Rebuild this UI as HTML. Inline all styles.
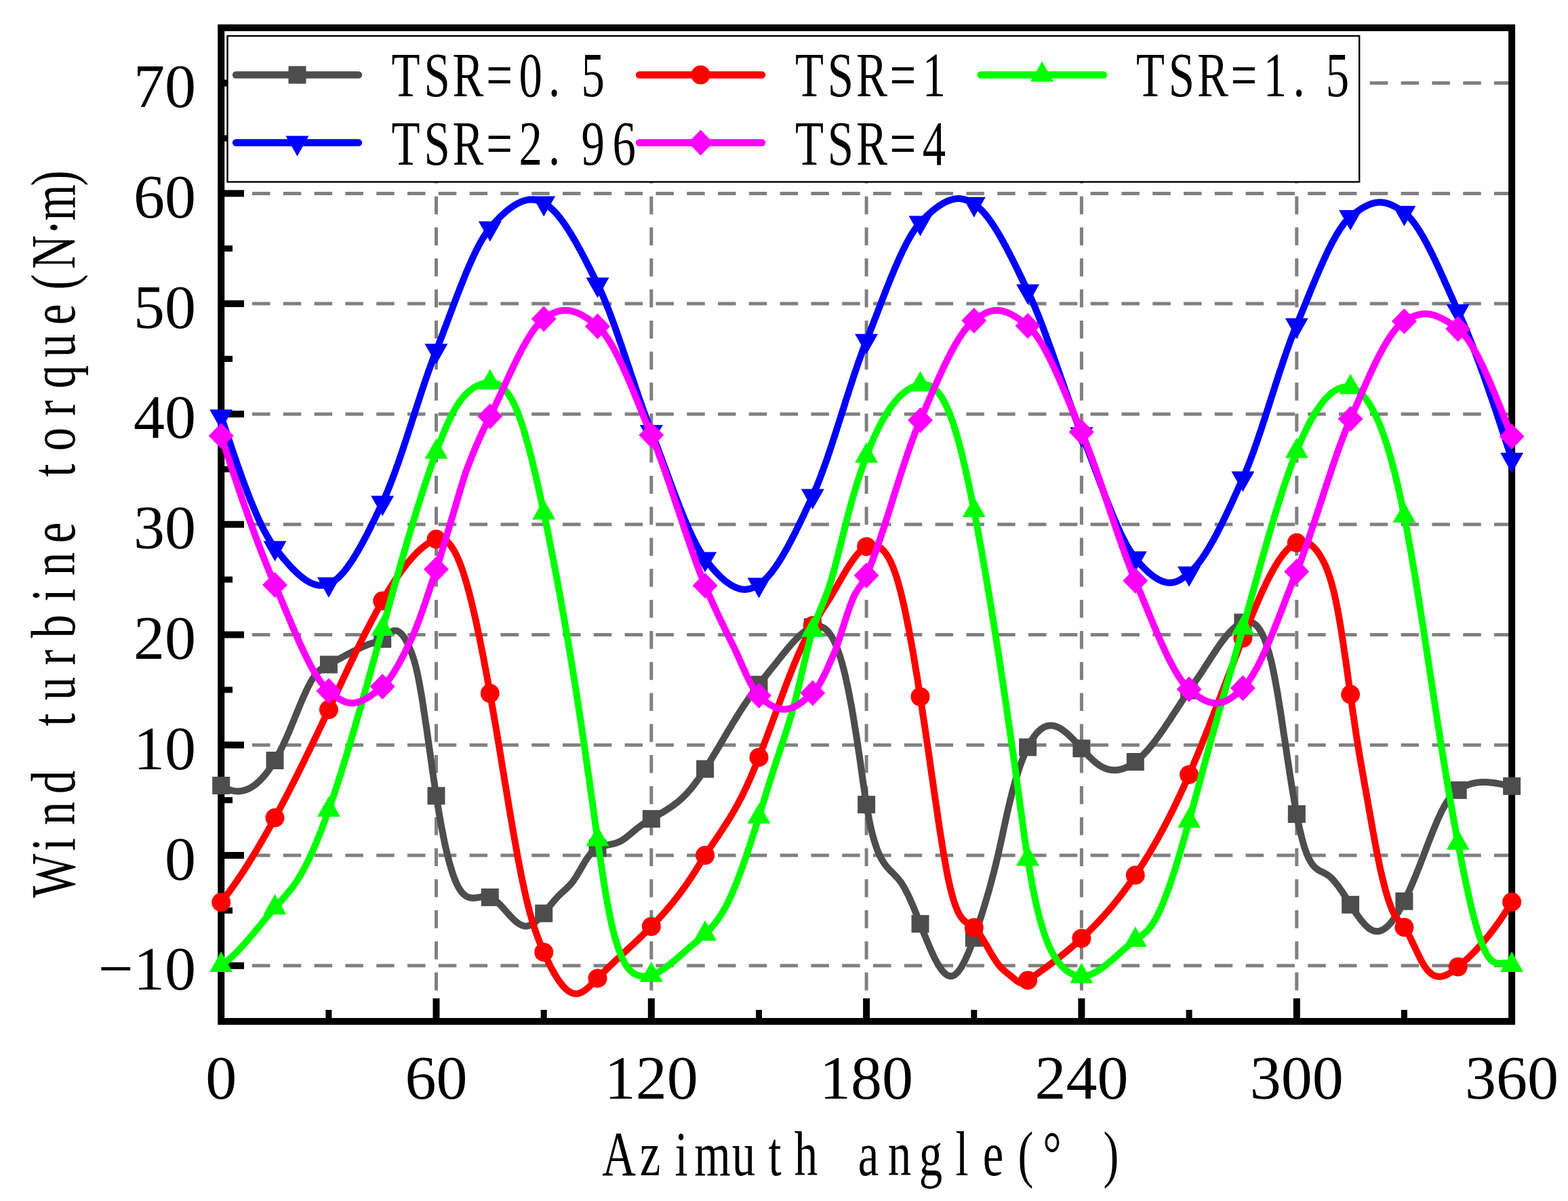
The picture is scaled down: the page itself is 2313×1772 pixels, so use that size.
<!DOCTYPE html><html><head><meta charset="utf-8"><title>Wind turbine torque vs azimuth angle</title><style>html,body{margin:0;padding:0;background:#fff;}svg{display:block;}.tk{font-family:"Liberation Serif","Times New Roman",serif;font-size:92px;fill:#000;}.ss{font-family:"Liberation Serif","Noto Serif CJK SC",serif;fill:#000;}</style></head><body>
<svg width="2313" height="1772" viewBox="0 0 2313 1772">
<rect width="2313" height="1772" fill="#fff"/>
<g stroke="#808080" stroke-width="5" stroke-dasharray="26.5 19.3" fill="none">
<path d="M326.2,1424.8H2225"/>
<path d="M326.2,1262.0H2225"/>
<path d="M326.2,1099.2H2225"/>
<path d="M326.2,936.5H2225"/>
<path d="M326.2,773.7H2225"/>
<path d="M326.2,610.9H2225"/>
<path d="M326.2,448.1H2225"/>
<path d="M326.2,285.4H2225"/>
<path d="M326.2,122.6H2225"/>
<path d="M643.5,1507V46"/>
<path d="M960.8,1507V46"/>
<path d="M1278.1,1507V46"/>
<path d="M1595.4,1507V46"/>
<path d="M1912.8,1507V46"/>
</g>
<rect x="326.2" y="41" width="1903.9" height="1466" fill="none" stroke="#000" stroke-width="10"/>
<g stroke="#000" fill="none">
<path d="M331,1424.8H360" stroke-width="10"/>
<path d="M331,1343.4H343" stroke-width="9"/>
<path d="M331,1262.0H360" stroke-width="10"/>
<path d="M331,1180.6H343" stroke-width="9"/>
<path d="M331,1099.2H360" stroke-width="10"/>
<path d="M331,1017.8H343" stroke-width="9"/>
<path d="M331,936.5H360" stroke-width="10"/>
<path d="M331,855.1H343" stroke-width="9"/>
<path d="M331,773.7H360" stroke-width="10"/>
<path d="M331,692.3H343" stroke-width="9"/>
<path d="M331,610.9H360" stroke-width="10"/>
<path d="M331,529.5H343" stroke-width="9"/>
<path d="M331,448.1H360" stroke-width="10"/>
<path d="M331,366.7H343" stroke-width="9"/>
<path d="M331,285.4H360" stroke-width="10"/>
<path d="M331,204.0H343" stroke-width="9"/>
<path d="M331,122.6H360" stroke-width="10"/>
<path d="M484.9,1502V1490" stroke-width="9"/>
<path d="M643.5,1502V1473" stroke-width="10"/>
<path d="M802.2,1502V1490" stroke-width="9"/>
<path d="M960.8,1502V1473" stroke-width="10"/>
<path d="M1119.5,1502V1490" stroke-width="9"/>
<path d="M1278.1,1502V1473" stroke-width="10"/>
<path d="M1436.8,1502V1490" stroke-width="9"/>
<path d="M1595.4,1502V1473" stroke-width="10"/>
<path d="M1754.1,1502V1490" stroke-width="9"/>
<path d="M1912.8,1502V1473" stroke-width="10"/>
<path d="M2071.4,1502V1490" stroke-width="9"/>
</g>
<path d="M326.2,1159.0 L327.5,1159.8 L328.8,1160.7 L330.2,1161.5 L331.5,1162.2 L332.8,1162.9 L334.1,1163.5 L335.5,1164.1 L336.8,1164.7 L338.1,1165.2 L339.4,1165.6 L340.7,1166.0 L342.1,1166.4 L343.4,1166.7 L344.7,1166.9 L346.0,1167.1 L347.4,1167.3 L348.7,1167.4 L350.0,1167.4 L351.3,1167.4 L352.6,1167.4 L354.0,1167.3 L355.3,1167.1 L356.6,1166.9 L357.9,1166.7 L359.3,1166.4 L360.6,1166.0 L361.9,1165.6 L363.2,1165.2 L364.5,1164.6 L365.9,1164.1 L367.2,1163.5 L368.5,1162.8 L369.8,1162.1 L371.2,1161.3 L372.5,1160.5 L373.8,1159.6 L375.1,1158.7 L376.4,1157.7 L377.8,1156.6 L379.1,1155.5 L380.4,1154.4 L381.7,1153.2 L383.1,1151.9 L384.4,1150.6 L385.7,1149.2 L387.0,1147.8 L388.3,1146.3 L389.7,1144.8 L391.0,1143.2 L392.3,1141.6 L393.6,1139.9 L395.0,1138.1 L396.3,1136.3 L397.6,1134.4 L398.9,1132.5 L400.2,1130.5 L401.6,1128.5 L402.9,1126.4 L404.2,1124.3 L405.5,1122.0 L406.8,1119.8 L408.2,1117.5 L409.5,1115.1 L410.8,1112.6 L412.1,1110.1 L413.5,1107.6 L414.8,1105.0 L416.1,1102.3 L417.4,1099.6 L418.7,1096.8 L420.1,1093.9 L421.4,1091.0 L422.7,1088.1 L424.0,1085.0 L425.4,1082.0 L426.7,1078.8 L428.0,1075.7 L429.3,1072.5 L430.6,1069.3 L432.0,1066.1 L433.3,1062.8 L434.6,1059.5 L435.9,1056.3 L437.3,1053.0 L438.6,1049.8 L439.9,1046.6 L441.2,1043.3 L442.5,1040.2 L443.9,1037.0 L445.2,1033.9 L446.5,1030.8 L447.8,1027.8 L449.2,1024.8 L450.5,1021.9 L451.8,1019.1 L453.1,1016.4 L454.4,1013.7 L455.8,1011.1 L457.1,1008.6 L458.4,1006.2 L459.7,1003.9 L461.1,1001.7 L462.4,999.7 L463.7,997.7 L465.0,995.9 L466.3,994.2 L467.7,992.7 L469.0,991.2 L470.3,989.9 L471.6,988.7 L473.0,987.6 L474.3,986.6 L475.6,985.7 L476.9,984.8 L478.2,984.0 L479.6,983.3 L480.9,982.5 L482.2,981.8 L483.5,981.2 L484.9,980.5 L486.2,979.8 L487.5,979.1 L488.8,978.4 L490.1,977.7 L491.5,977.0 L492.8,976.3 L494.1,975.6 L495.4,974.9 L496.8,974.1 L498.1,973.4 L499.4,972.7 L500.7,972.0 L502.0,971.2 L503.4,970.5 L504.7,969.8 L506.0,969.1 L507.3,968.4 L508.7,967.6 L510.0,966.9 L511.3,966.2 L512.6,965.5 L513.9,964.8 L515.3,964.1 L516.6,963.4 L517.9,962.7 L519.2,962.0 L520.6,961.3 L521.9,960.6 L523.2,960.0 L524.5,959.3 L525.8,958.7 L527.2,958.0 L528.5,957.4 L529.8,956.7 L531.1,956.1 L532.5,955.5 L533.8,954.9 L535.1,954.3 L536.4,953.7 L537.7,953.2 L539.1,952.6 L540.4,952.1 L541.7,951.5 L543.0,951.0 L544.4,950.5 L545.7,950.0 L547.0,949.6 L548.3,949.1 L549.6,948.7 L551.0,948.3 L552.3,947.8 L553.6,947.4 L554.9,947.0 L556.2,946.6 L557.6,946.1 L558.9,945.6 L560.2,945.1 L561.5,944.4 L562.9,943.7 L564.2,942.8 L565.5,941.8 L566.8,940.8 L568.1,939.7 L569.5,938.5 L570.8,937.3 L572.1,936.1 L573.4,935.0 L574.8,933.9 L576.1,933.0 L577.4,932.1 L578.7,931.4 L580.0,930.9 L581.4,930.6 L582.7,930.5 L584.0,930.6 L585.3,930.8 L586.7,931.3 L588.0,932.0 L589.3,932.9 L590.6,933.9 L591.9,935.2 L593.3,936.7 L594.6,938.3 L595.9,940.1 L597.2,942.2 L598.6,944.4 L599.9,946.8 L601.2,949.4 L602.5,952.2 L603.8,955.2 L605.2,958.4 L606.5,961.7 L607.8,965.3 L609.1,969.0 L610.5,973.1 L611.8,977.6 L613.1,982.4 L614.4,987.8 L615.7,993.7 L617.1,1000.1 L618.4,1006.9 L619.7,1014.2 L621.0,1021.7 L622.4,1029.7 L623.7,1037.9 L625.0,1046.4 L626.3,1055.1 L627.6,1064.0 L629.0,1073.1 L630.3,1082.3 L631.6,1091.6 L632.9,1101.0 L634.3,1110.4 L635.6,1119.8 L636.9,1129.2 L638.2,1138.5 L639.5,1147.6 L640.9,1156.7 L642.2,1165.5 L643.5,1174.2 L644.8,1182.6 L646.2,1190.7 L647.5,1198.6 L648.8,1206.3 L650.1,1213.7 L651.4,1220.9 L652.8,1227.8 L654.1,1234.5 L655.4,1240.9 L656.7,1247.1 L658.1,1253.0 L659.4,1258.6 L660.7,1264.1 L662.0,1269.2 L663.3,1274.2 L664.7,1278.8 L666.0,1283.3 L667.3,1287.4 L668.6,1291.3 L670.0,1295.0 L671.3,1298.4 L672.6,1301.6 L673.9,1304.5 L675.2,1307.1 L676.6,1309.6 L677.9,1311.8 L679.2,1313.8 L680.5,1315.6 L681.9,1317.2 L683.2,1318.6 L684.5,1319.8 L685.8,1320.9 L687.1,1321.9 L688.5,1322.6 L689.8,1323.3 L691.1,1323.8 L692.4,1324.2 L693.8,1324.5 L695.1,1324.7 L696.4,1324.9 L697.7,1324.9 L699.0,1324.9 L700.4,1324.8 L701.7,1324.7 L703.0,1324.5 L704.3,1324.3 L705.6,1324.1 L707.0,1323.9 L708.3,1323.6 L709.6,1323.4 L710.9,1323.2 L712.3,1323.1 L713.6,1322.9 L714.9,1322.9 L716.2,1322.8 L717.5,1322.9 L718.9,1323.0 L720.2,1323.2 L721.5,1323.5 L722.8,1323.9 L724.2,1324.4 L725.5,1325.1 L726.8,1325.8 L728.1,1326.6 L729.4,1327.5 L730.8,1328.5 L732.1,1329.6 L733.4,1330.8 L734.7,1332.0 L736.1,1333.2 L737.4,1334.6 L738.7,1335.9 L740.0,1337.3 L741.3,1338.8 L742.7,1340.2 L744.0,1341.7 L745.3,1343.2 L746.6,1344.7 L748.0,1346.2 L749.3,1347.7 L750.6,1349.2 L751.9,1350.6 L753.2,1352.1 L754.6,1353.5 L755.9,1354.8 L757.2,1356.2 L758.5,1357.4 L759.9,1358.6 L761.2,1359.8 L762.5,1360.8 L763.8,1361.8 L765.1,1362.7 L766.5,1363.6 L767.8,1364.3 L769.1,1364.9 L770.4,1365.4 L771.8,1365.9 L773.1,1366.2 L774.4,1366.4 L775.7,1366.4 L777.0,1366.4 L778.4,1366.2 L779.7,1365.9 L781.0,1365.5 L782.3,1365.0 L783.7,1364.3 L785.0,1363.6 L786.3,1362.8 L787.6,1361.9 L788.9,1360.9 L790.3,1359.8 L791.6,1358.7 L792.9,1357.5 L794.2,1356.2 L795.6,1354.9 L796.9,1353.5 L798.2,1352.1 L799.5,1350.6 L800.8,1349.1 L802.2,1347.6 L803.5,1346.0 L804.8,1344.4 L806.1,1342.8 L807.5,1341.1 L808.8,1339.5 L810.1,1337.9 L811.4,1336.2 L812.7,1334.6 L814.1,1333.0 L815.4,1331.4 L816.7,1329.8 L818.0,1328.3 L819.4,1326.7 L820.7,1325.3 L822.0,1323.8 L823.3,1322.4 L824.6,1321.1 L826.0,1319.8 L827.3,1318.5 L828.6,1317.3 L829.9,1316.1 L831.3,1314.9 L832.6,1313.7 L833.9,1312.5 L835.2,1311.3 L836.5,1310.0 L837.9,1308.7 L839.2,1307.4 L840.5,1306.0 L841.8,1304.5 L843.2,1302.9 L844.5,1301.3 L845.8,1299.6 L847.1,1297.7 L848.4,1295.8 L849.8,1293.7 L851.1,1291.6 L852.4,1289.4 L853.7,1287.1 L855.0,1284.9 L856.4,1282.6 L857.7,1280.3 L859.0,1278.0 L860.3,1275.7 L861.7,1273.5 L863.0,1271.3 L864.3,1269.2 L865.6,1267.1 L866.9,1265.2 L868.3,1263.4 L869.6,1261.7 L870.9,1260.1 L872.2,1258.6 L873.6,1257.3 L874.9,1256.1 L876.2,1255.0 L877.5,1253.9 L878.8,1253.0 L880.2,1252.2 L881.5,1251.4 L882.8,1250.7 L884.1,1250.1 L885.5,1249.5 L886.8,1249.0 L888.1,1248.6 L889.4,1248.2 L890.7,1247.8 L892.1,1247.5 L893.4,1247.2 L894.7,1246.9 L896.0,1246.7 L897.4,1246.4 L898.7,1246.2 L900.0,1245.9 L901.3,1245.7 L902.6,1245.4 L904.0,1245.1 L905.3,1244.8 L906.6,1244.5 L907.9,1244.1 L909.3,1243.7 L910.6,1243.2 L911.9,1242.7 L913.2,1242.1 L914.5,1241.5 L915.9,1240.8 L917.2,1240.0 L918.5,1239.2 L919.8,1238.3 L921.2,1237.4 L922.5,1236.5 L923.8,1235.5 L925.1,1234.4 L926.4,1233.4 L927.8,1232.3 L929.1,1231.2 L930.4,1230.1 L931.7,1229.0 L933.1,1227.9 L934.4,1226.8 L935.7,1225.7 L937.0,1224.6 L938.3,1223.5 L939.7,1222.4 L941.0,1221.4 L942.3,1220.4 L943.6,1219.4 L945.0,1218.4 L946.3,1217.5 L947.6,1216.6 L948.9,1215.7 L950.2,1214.8 L951.6,1213.9 L952.9,1213.1 L954.2,1212.2 L955.5,1211.4 L956.9,1210.6 L958.2,1209.8 L959.5,1209.0 L960.8,1208.2 L962.1,1207.4 L963.5,1206.6 L964.8,1205.9 L966.1,1205.1 L967.4,1204.3 L968.8,1203.6 L970.1,1202.8 L971.4,1202.1 L972.7,1201.3 L974.0,1200.5 L975.4,1199.7 L976.7,1199.0 L978.0,1198.2 L979.3,1197.4 L980.7,1196.6 L982.0,1195.8 L983.3,1194.9 L984.6,1194.1 L985.9,1193.2 L987.3,1192.4 L988.6,1191.5 L989.9,1190.6 L991.2,1189.7 L992.6,1188.7 L993.9,1187.8 L995.2,1186.8 L996.5,1185.8 L997.8,1184.7 L999.2,1183.7 L1000.5,1182.6 L1001.8,1181.5 L1003.1,1180.3 L1004.5,1179.2 L1005.8,1178.0 L1007.1,1176.7 L1008.4,1175.5 L1009.7,1174.2 L1011.1,1172.8 L1012.4,1171.4 L1013.7,1170.0 L1015.0,1168.6 L1016.3,1167.1 L1017.7,1165.5 L1019.0,1164.0 L1020.3,1162.4 L1021.6,1160.7 L1023.0,1159.0 L1024.3,1157.3 L1025.6,1155.6 L1026.9,1153.8 L1028.2,1152.0 L1029.6,1150.2 L1030.9,1148.3 L1032.2,1146.5 L1033.5,1144.6 L1034.9,1142.6 L1036.2,1140.7 L1037.5,1138.7 L1038.8,1136.7 L1040.1,1134.6 L1041.5,1132.6 L1042.8,1130.5 L1044.1,1128.5 L1045.4,1126.4 L1046.8,1124.2 L1048.1,1122.1 L1049.4,1120.0 L1050.7,1117.8 L1052.0,1115.6 L1053.4,1113.5 L1054.7,1111.3 L1056.0,1109.1 L1057.3,1106.9 L1058.7,1104.6 L1060.0,1102.4 L1061.3,1100.2 L1062.6,1097.9 L1063.9,1095.7 L1065.3,1093.5 L1066.6,1091.2 L1067.9,1089.0 L1069.2,1086.7 L1070.6,1084.5 L1071.9,1082.3 L1073.2,1080.0 L1074.5,1077.8 L1075.8,1075.6 L1077.2,1073.4 L1078.5,1071.2 L1079.8,1069.0 L1081.1,1066.8 L1082.5,1064.6 L1083.8,1062.4 L1085.1,1060.3 L1086.4,1058.1 L1087.7,1056.0 L1089.1,1053.9 L1090.4,1051.8 L1091.7,1049.7 L1093.0,1047.6 L1094.4,1045.6 L1095.7,1043.5 L1097.0,1041.5 L1098.3,1039.5 L1099.6,1037.6 L1101.0,1035.6 L1102.3,1033.7 L1103.6,1031.8 L1104.9,1029.9 L1106.3,1028.0 L1107.6,1026.2 L1108.9,1024.4 L1110.2,1022.5 L1111.5,1020.7 L1112.9,1018.9 L1114.2,1017.1 L1115.5,1015.4 L1116.8,1013.6 L1118.2,1011.9 L1119.5,1010.1 L1120.8,1008.4 L1122.1,1006.7 L1123.4,1005.0 L1124.8,1003.3 L1126.1,1001.6 L1127.4,999.9 L1128.7,998.2 L1130.1,996.6 L1131.4,994.9 L1132.7,993.3 L1134.0,991.6 L1135.3,989.9 L1136.7,988.3 L1138.0,986.6 L1139.3,985.0 L1140.6,983.3 L1142.0,981.7 L1143.3,980.0 L1144.6,978.4 L1145.9,976.7 L1147.2,975.1 L1148.6,973.4 L1149.9,971.8 L1151.2,970.1 L1152.5,968.5 L1153.9,966.8 L1155.2,965.1 L1156.5,963.5 L1157.8,961.9 L1159.1,960.2 L1160.5,958.6 L1161.8,957.0 L1163.1,955.5 L1164.4,953.9 L1165.7,952.4 L1167.1,950.8 L1168.4,949.3 L1169.7,947.9 L1171.0,946.4 L1172.4,945.0 L1173.7,943.6 L1175.0,942.2 L1176.3,940.9 L1177.6,939.6 L1179.0,938.4 L1180.3,937.1 L1181.6,936.0 L1182.9,934.8 L1184.3,933.8 L1185.6,932.7 L1186.9,931.7 L1188.2,930.8 L1189.5,929.9 L1190.9,929.0 L1192.2,928.3 L1193.5,927.5 L1194.8,926.9 L1196.2,926.2 L1197.5,925.7 L1198.8,925.2 L1200.1,924.8 L1201.4,924.4 L1202.8,924.2 L1204.1,924.0 L1205.4,923.9 L1206.7,923.9 L1208.1,924.0 L1209.4,924.2 L1210.7,924.5 L1212.0,924.9 L1213.3,925.4 L1214.7,926.1 L1216.0,926.9 L1217.3,927.9 L1218.6,929.0 L1220.0,930.2 L1221.3,931.6 L1222.6,933.1 L1223.9,934.9 L1225.2,936.8 L1226.6,938.8 L1227.9,941.1 L1229.2,943.5 L1230.5,946.2 L1231.9,949.0 L1233.2,952.0 L1234.5,955.3 L1235.8,958.8 L1237.1,962.5 L1238.5,966.4 L1239.8,970.6 L1241.1,975.0 L1242.4,979.6 L1243.8,984.5 L1245.1,989.6 L1246.4,995.1 L1247.7,1000.7 L1249.0,1006.7 L1250.4,1012.9 L1251.7,1019.4 L1253.0,1026.1 L1254.3,1033.1 L1255.7,1040.3 L1257.0,1047.7 L1258.3,1055.3 L1259.6,1063.2 L1260.9,1071.2 L1262.3,1079.5 L1263.6,1087.9 L1264.9,1096.6 L1266.2,1105.4 L1267.6,1114.4 L1268.9,1123.5 L1270.2,1132.8 L1271.5,1142.2 L1272.8,1151.6 L1274.2,1160.9 L1275.5,1170.0 L1276.8,1178.7 L1278.1,1187.1 L1279.5,1195.0 L1280.8,1202.4 L1282.1,1209.3 L1283.4,1215.7 L1284.7,1221.7 L1286.1,1227.4 L1287.4,1232.6 L1288.7,1237.4 L1290.0,1241.9 L1291.4,1246.1 L1292.7,1249.9 L1294.0,1253.5 L1295.3,1256.8 L1296.6,1259.9 L1298.0,1262.7 L1299.3,1265.3 L1300.6,1267.8 L1301.9,1270.1 L1303.3,1272.2 L1304.6,1274.1 L1305.9,1276.0 L1307.2,1277.7 L1308.5,1279.3 L1309.9,1280.9 L1311.2,1282.3 L1312.5,1283.8 L1313.8,1285.1 L1315.1,1286.4 L1316.5,1287.7 L1317.8,1289.0 L1319.1,1290.4 L1320.4,1291.7 L1321.8,1293.1 L1323.1,1294.5 L1324.4,1296.0 L1325.7,1297.5 L1327.0,1299.2 L1328.4,1300.9 L1329.7,1302.8 L1331.0,1304.8 L1332.3,1307.0 L1333.7,1309.2 L1335.0,1311.6 L1336.3,1314.1 L1337.6,1316.6 L1338.9,1319.3 L1340.3,1322.0 L1341.6,1324.9 L1342.9,1327.8 L1344.2,1330.8 L1345.6,1333.8 L1346.9,1336.9 L1348.2,1340.1 L1349.5,1343.3 L1350.8,1346.5 L1352.2,1349.8 L1353.5,1353.1 L1354.8,1356.4 L1356.1,1359.8 L1357.5,1363.1 L1358.8,1366.5 L1360.1,1369.8 L1361.4,1373.2 L1362.7,1376.5 L1364.1,1379.8 L1365.4,1383.1 L1366.7,1386.4 L1368.0,1389.6 L1369.4,1392.8 L1370.7,1395.9 L1372.0,1399.0 L1373.3,1402.0 L1374.6,1405.0 L1376.0,1407.8 L1377.3,1410.6 L1378.6,1413.3 L1379.9,1415.9 L1381.3,1418.4 L1382.6,1420.8 L1383.9,1423.1 L1385.2,1425.3 L1386.5,1427.4 L1387.9,1429.3 L1389.2,1431.1 L1390.5,1432.7 L1391.8,1434.2 L1393.2,1435.6 L1394.5,1436.8 L1395.8,1437.8 L1397.1,1438.7 L1398.4,1439.4 L1399.8,1439.9 L1401.1,1440.2 L1402.4,1440.3 L1403.7,1440.2 L1405.1,1439.9 L1406.4,1439.4 L1407.7,1438.7 L1409.0,1437.8 L1410.3,1436.7 L1411.7,1435.4 L1413.0,1434.0 L1414.3,1432.4 L1415.6,1430.6 L1417.0,1428.7 L1418.3,1426.6 L1419.6,1424.3 L1420.9,1421.9 L1422.2,1419.4 L1423.6,1416.7 L1424.9,1413.9 L1426.2,1411.0 L1427.5,1408.0 L1428.9,1404.8 L1430.2,1401.6 L1431.5,1398.2 L1432.8,1394.7 L1434.1,1391.2 L1435.5,1387.6 L1436.8,1383.8 L1438.1,1380.0 L1439.4,1376.2 L1440.8,1372.3 L1442.1,1368.3 L1443.4,1364.2 L1444.7,1360.1 L1446.0,1356.0 L1447.4,1351.8 L1448.7,1347.6 L1450.0,1343.4 L1451.3,1339.1 L1452.7,1334.7 L1454.0,1330.4 L1455.3,1325.9 L1456.6,1321.4 L1457.9,1316.8 L1459.3,1312.1 L1460.6,1307.4 L1461.9,1302.5 L1463.2,1297.6 L1464.5,1292.6 L1465.9,1287.5 L1467.2,1282.3 L1468.5,1277.0 L1469.8,1271.5 L1471.2,1266.0 L1472.5,1260.3 L1473.8,1254.5 L1475.1,1248.6 L1476.4,1242.6 L1477.8,1236.5 L1479.1,1230.3 L1480.4,1224.2 L1481.7,1218.0 L1483.1,1211.9 L1484.4,1205.8 L1485.7,1199.8 L1487.0,1194.0 L1488.3,1188.3 L1489.7,1182.7 L1491.0,1177.4 L1492.3,1172.1 L1493.6,1167.0 L1495.0,1162.1 L1496.3,1157.3 L1497.6,1152.7 L1498.9,1148.2 L1500.2,1143.9 L1501.6,1139.7 L1502.9,1135.6 L1504.2,1131.7 L1505.5,1127.9 L1506.9,1124.3 L1508.2,1120.8 L1509.5,1117.4 L1510.8,1114.1 L1512.1,1111.0 L1513.5,1108.0 L1514.8,1105.2 L1516.1,1102.5 L1517.4,1099.9 L1518.8,1097.4 L1520.1,1095.0 L1521.4,1092.8 L1522.7,1090.6 L1524.0,1088.6 L1525.4,1086.7 L1526.7,1085.0 L1528.0,1083.3 L1529.3,1081.7 L1530.7,1080.3 L1532.0,1078.9 L1533.3,1077.7 L1534.6,1076.6 L1535.9,1075.5 L1537.3,1074.6 L1538.6,1073.8 L1539.9,1073.0 L1541.2,1072.4 L1542.6,1071.9 L1543.9,1071.4 L1545.2,1071.0 L1546.5,1070.8 L1547.8,1070.6 L1549.2,1070.5 L1550.5,1070.5 L1551.8,1070.6 L1553.1,1070.7 L1554.5,1070.9 L1555.8,1071.2 L1557.1,1071.6 L1558.4,1072.1 L1559.7,1072.6 L1561.1,1073.2 L1562.4,1073.9 L1563.7,1074.6 L1565.0,1075.4 L1566.4,1076.3 L1567.7,1077.2 L1569.0,1078.1 L1570.3,1079.1 L1571.6,1080.2 L1573.0,1081.3 L1574.3,1082.4 L1575.6,1083.6 L1576.9,1084.8 L1578.3,1086.1 L1579.6,1087.4 L1580.9,1088.7 L1582.2,1090.0 L1583.5,1091.4 L1584.9,1092.8 L1586.2,1094.2 L1587.5,1095.6 L1588.8,1097.0 L1590.2,1098.5 L1591.5,1099.9 L1592.8,1101.4 L1594.1,1102.8 L1595.4,1104.3 L1596.8,1105.7 L1598.1,1107.2 L1599.4,1108.6 L1600.7,1110.0 L1602.1,1111.4 L1603.4,1112.8 L1604.7,1114.2 L1606.0,1115.6 L1607.3,1116.9 L1608.7,1118.2 L1610.0,1119.5 L1611.3,1120.8 L1612.6,1122.0 L1613.9,1123.1 L1615.3,1124.3 L1616.6,1125.4 L1617.9,1126.4 L1619.2,1127.4 L1620.6,1128.4 L1621.9,1129.3 L1623.2,1130.1 L1624.5,1130.9 L1625.8,1131.6 L1627.2,1132.3 L1628.5,1132.9 L1629.8,1133.5 L1631.1,1134.0 L1632.5,1134.5 L1633.8,1134.9 L1635.1,1135.2 L1636.4,1135.5 L1637.7,1135.8 L1639.1,1136.0 L1640.4,1136.1 L1641.7,1136.2 L1643.0,1136.3 L1644.4,1136.3 L1645.7,1136.3 L1647.0,1136.2 L1648.3,1136.0 L1649.6,1135.9 L1651.0,1135.6 L1652.3,1135.3 L1653.6,1135.0 L1654.9,1134.7 L1656.3,1134.2 L1657.6,1133.8 L1658.9,1133.3 L1660.2,1132.7 L1661.5,1132.2 L1662.9,1131.5 L1664.2,1130.8 L1665.5,1130.1 L1666.8,1129.4 L1668.2,1128.6 L1669.5,1127.7 L1670.8,1126.9 L1672.1,1125.9 L1673.4,1125.0 L1674.8,1124.0 L1676.1,1123.0 L1677.4,1121.9 L1678.7,1120.8 L1680.1,1119.6 L1681.4,1118.4 L1682.7,1117.2 L1684.0,1116.0 L1685.3,1114.7 L1686.7,1113.3 L1688.0,1112.0 L1689.3,1110.6 L1690.6,1109.2 L1692.0,1107.7 L1693.3,1106.2 L1694.6,1104.7 L1695.9,1103.1 L1697.2,1101.5 L1698.6,1099.9 L1699.9,1098.3 L1701.2,1096.6 L1702.5,1094.9 L1703.9,1093.2 L1705.2,1091.4 L1706.5,1089.6 L1707.8,1087.8 L1709.1,1086.0 L1710.5,1084.2 L1711.8,1082.3 L1713.1,1080.4 L1714.4,1078.5 L1715.8,1076.6 L1717.1,1074.7 L1718.4,1072.8 L1719.7,1070.8 L1721.0,1068.8 L1722.4,1066.9 L1723.7,1064.9 L1725.0,1062.9 L1726.3,1060.9 L1727.7,1058.8 L1729.0,1056.8 L1730.3,1054.8 L1731.6,1052.8 L1732.9,1050.7 L1734.3,1048.7 L1735.6,1046.7 L1736.9,1044.6 L1738.2,1042.6 L1739.6,1040.6 L1740.9,1038.5 L1742.2,1036.5 L1743.5,1034.5 L1744.8,1032.5 L1746.2,1030.5 L1747.5,1028.5 L1748.8,1026.5 L1750.1,1024.5 L1751.5,1022.6 L1752.8,1020.6 L1754.1,1018.7 L1755.4,1016.7 L1756.7,1014.8 L1758.1,1012.9 L1759.4,1011.0 L1760.7,1009.1 L1762.0,1007.2 L1763.3,1005.3 L1764.7,1003.4 L1766.0,1001.5 L1767.3,999.6 L1768.6,997.6 L1770.0,995.7 L1771.3,993.7 L1772.6,991.7 L1773.9,989.7 L1775.2,987.7 L1776.6,985.6 L1777.9,983.6 L1779.2,981.5 L1780.5,979.5 L1781.9,977.4 L1783.2,975.4 L1784.5,973.3 L1785.8,971.3 L1787.1,969.3 L1788.5,967.2 L1789.8,965.2 L1791.1,963.2 L1792.4,961.2 L1793.8,959.3 L1795.1,957.3 L1796.4,955.4 L1797.7,953.5 L1799.0,951.6 L1800.4,949.7 L1801.7,947.9 L1803.0,946.1 L1804.3,944.4 L1805.7,942.6 L1807.0,941.0 L1808.3,939.3 L1809.6,937.7 L1810.9,936.2 L1812.3,934.6 L1813.6,933.2 L1814.9,931.8 L1816.2,930.4 L1817.6,929.1 L1818.9,927.8 L1820.2,926.6 L1821.5,925.5 L1822.8,924.4 L1824.2,923.4 L1825.5,922.5 L1826.8,921.6 L1828.1,920.8 L1829.5,920.1 L1830.8,919.5 L1832.1,918.9 L1833.4,918.4 L1834.7,918.0 L1836.1,917.7 L1837.4,917.4 L1838.7,917.3 L1840.0,917.2 L1841.4,917.2 L1842.7,917.3 L1844.0,917.6 L1845.3,917.9 L1846.6,918.4 L1848.0,919.0 L1849.3,919.7 L1850.6,920.6 L1851.9,921.6 L1853.3,922.8 L1854.6,924.2 L1855.9,925.8 L1857.2,927.5 L1858.5,929.5 L1859.9,931.7 L1861.2,934.1 L1862.5,936.7 L1863.8,939.6 L1865.2,942.7 L1866.5,946.1 L1867.8,949.8 L1869.1,953.7 L1870.4,957.9 L1871.8,962.5 L1873.1,967.3 L1874.4,972.5 L1875.7,977.9 L1877.1,983.7 L1878.4,989.9 L1879.7,996.4 L1881.0,1003.3 L1882.3,1010.5 L1883.7,1018.0 L1885.0,1025.8 L1886.3,1033.8 L1887.6,1042.1 L1889.0,1050.5 L1890.3,1059.1 L1891.6,1067.9 L1892.9,1076.7 L1894.2,1085.6 L1895.6,1094.5 L1896.9,1103.4 L1898.2,1112.3 L1899.5,1121.1 L1900.9,1129.9 L1902.2,1138.5 L1903.5,1147.0 L1904.8,1155.3 L1906.1,1163.4 L1907.5,1171.4 L1908.8,1179.2 L1910.1,1186.7 L1911.4,1194.0 L1912.8,1201.1 L1914.1,1207.9 L1915.4,1214.4 L1916.7,1220.7 L1918.0,1226.7 L1919.4,1232.3 L1920.7,1237.6 L1922.0,1242.5 L1923.3,1247.1 L1924.6,1251.4 L1926.0,1255.3 L1927.3,1258.9 L1928.6,1262.1 L1929.9,1265.1 L1931.3,1267.8 L1932.6,1270.2 L1933.9,1272.4 L1935.2,1274.4 L1936.5,1276.2 L1937.9,1277.7 L1939.2,1279.2 L1940.5,1280.4 L1941.8,1281.5 L1943.2,1282.5 L1944.5,1283.4 L1945.8,1284.2 L1947.1,1285.0 L1948.4,1285.6 L1949.8,1286.3 L1951.1,1286.9 L1952.4,1287.6 L1953.7,1288.2 L1955.1,1288.9 L1956.4,1289.7 L1957.7,1290.5 L1959.0,1291.4 L1960.3,1292.4 L1961.7,1293.5 L1963.0,1294.6 L1964.3,1295.9 L1965.6,1297.2 L1967.0,1298.7 L1968.3,1300.2 L1969.6,1301.7 L1970.9,1303.4 L1972.2,1305.1 L1973.6,1306.8 L1974.9,1308.6 L1976.2,1310.5 L1977.5,1312.4 L1978.9,1314.3 L1980.2,1316.2 L1981.5,1318.2 L1982.8,1320.3 L1984.1,1322.3 L1985.5,1324.4 L1986.8,1326.4 L1988.1,1328.5 L1989.4,1330.6 L1990.8,1332.7 L1992.1,1334.8 L1993.4,1336.9 L1994.7,1338.9 L1996.0,1341.0 L1997.4,1343.0 L1998.7,1345.0 L2000.0,1347.0 L2001.3,1348.9 L2002.7,1350.8 L2004.0,1352.6 L2005.3,1354.4 L2006.6,1356.2 L2007.9,1357.9 L2009.3,1359.5 L2010.6,1361.1 L2011.9,1362.6 L2013.2,1364.1 L2014.6,1365.4 L2015.9,1366.7 L2017.2,1367.9 L2018.5,1369.0 L2019.8,1370.0 L2021.2,1370.9 L2022.5,1371.7 L2023.8,1372.4 L2025.1,1373.0 L2026.5,1373.4 L2027.8,1373.8 L2029.1,1374.0 L2030.4,1374.1 L2031.7,1374.1 L2033.1,1374.0 L2034.4,1373.8 L2035.7,1373.5 L2037.0,1373.0 L2038.4,1372.5 L2039.7,1371.8 L2041.0,1371.1 L2042.3,1370.2 L2043.6,1369.3 L2045.0,1368.2 L2046.3,1367.1 L2047.6,1365.8 L2048.9,1364.5 L2050.3,1363.1 L2051.6,1361.6 L2052.9,1360.0 L2054.2,1358.3 L2055.5,1356.6 L2056.9,1354.7 L2058.2,1352.8 L2059.5,1350.8 L2060.8,1348.7 L2062.2,1346.6 L2063.5,1344.4 L2064.8,1342.1 L2066.1,1339.7 L2067.4,1337.3 L2068.8,1334.8 L2070.1,1332.3 L2071.4,1329.7 L2072.7,1327.0 L2074.0,1324.3 L2075.4,1321.5 L2076.7,1318.7 L2078.0,1315.8 L2079.3,1312.9 L2080.7,1309.9 L2082.0,1306.8 L2083.3,1303.8 L2084.6,1300.6 L2085.9,1297.5 L2087.3,1294.3 L2088.6,1291.1 L2089.9,1287.8 L2091.2,1284.5 L2092.6,1281.1 L2093.9,1277.8 L2095.2,1274.4 L2096.5,1271.0 L2097.8,1267.5 L2099.2,1264.1 L2100.5,1260.6 L2101.8,1257.1 L2103.1,1253.7 L2104.5,1250.2 L2105.8,1246.8 L2107.1,1243.3 L2108.4,1239.9 L2109.7,1236.5 L2111.1,1233.1 L2112.4,1229.8 L2113.7,1226.5 L2115.0,1223.2 L2116.4,1220.0 L2117.7,1216.9 L2119.0,1213.7 L2120.3,1210.7 L2121.6,1207.7 L2123.0,1204.8 L2124.3,1202.0 L2125.6,1199.2 L2126.9,1196.5 L2128.3,1193.9 L2129.6,1191.4 L2130.9,1189.0 L2132.2,1186.7 L2133.5,1184.5 L2134.9,1182.4 L2136.2,1180.5 L2137.5,1178.6 L2138.8,1176.9 L2140.2,1175.3 L2141.5,1173.8 L2142.8,1172.4 L2144.1,1171.1 L2145.4,1169.9 L2146.8,1168.8 L2148.1,1167.7 L2149.4,1166.7 L2150.7,1165.8 L2152.1,1164.9 L2153.4,1164.0 L2154.7,1163.2 L2156.0,1162.4 L2157.3,1161.7 L2158.7,1161.0 L2160.0,1160.3 L2161.3,1159.7 L2162.6,1159.1 L2164.0,1158.6 L2165.3,1158.1 L2166.6,1157.6 L2167.9,1157.1 L2169.2,1156.7 L2170.6,1156.4 L2171.9,1156.0 L2173.2,1155.7 L2174.5,1155.4 L2175.9,1155.2 L2177.2,1154.9 L2178.5,1154.7 L2179.8,1154.6 L2181.1,1154.4 L2182.5,1154.3 L2183.8,1154.2 L2185.1,1154.1 L2186.4,1154.1 L2187.8,1154.1 L2189.1,1154.0 L2190.4,1154.1 L2191.7,1154.1 L2193.0,1154.1 L2194.4,1154.2 L2195.7,1154.3 L2197.0,1154.4 L2198.3,1154.5 L2199.7,1154.7 L2201.0,1154.8 L2202.3,1155.0 L2203.6,1155.1 L2204.9,1155.3 L2206.3,1155.5 L2207.6,1155.7 L2208.9,1155.9 L2210.2,1156.2 L2211.6,1156.4 L2212.9,1156.6 L2214.2,1156.9 L2215.5,1157.1 L2216.8,1157.4 L2218.2,1157.6 L2219.5,1157.9 L2220.8,1158.1 L2222.1,1158.4 L2223.4,1158.7 L2224.8,1158.9 L2226.1,1159.2 L2227.4,1159.4 L2228.7,1159.7 L2230.1,1159.9" fill="none" stroke="#4d4d4d" stroke-width="10" stroke-linejoin="round" stroke-linecap="round"/>
<rect x="313.2" y="1146.0" width="26" height="26" fill="#4d4d4d"/><rect x="392.5" y="1109.0" width="26" height="26" fill="#4d4d4d"/><rect x="471.9" y="967.5" width="26" height="26" fill="#4d4d4d"/><rect x="551.2" y="929.8" width="26" height="26" fill="#4d4d4d"/><rect x="630.5" y="1161.2" width="26" height="26" fill="#4d4d4d"/><rect x="709.8" y="1310.9" width="26" height="26" fill="#4d4d4d"/><rect x="789.2" y="1334.6" width="26" height="26" fill="#4d4d4d"/><rect x="868.5" y="1238.4" width="26" height="26" fill="#4d4d4d"/><rect x="947.8" y="1195.2" width="26" height="26" fill="#4d4d4d"/><rect x="1027.1" y="1121.6" width="26" height="26" fill="#4d4d4d"/><rect x="1106.5" y="997.1" width="26" height="26" fill="#4d4d4d"/><rect x="1185.8" y="912.2" width="26" height="26" fill="#4d4d4d"/><rect x="1265.1" y="1174.1" width="26" height="26" fill="#4d4d4d"/><rect x="1344.5" y="1350.1" width="26" height="26" fill="#4d4d4d"/><rect x="1423.8" y="1370.8" width="26" height="26" fill="#4d4d4d"/><rect x="1503.1" y="1089.5" width="26" height="26" fill="#4d4d4d"/><rect x="1582.4" y="1091.3" width="26" height="26" fill="#4d4d4d"/><rect x="1661.8" y="1111.0" width="26" height="26" fill="#4d4d4d"/><rect x="1741.1" y="1005.7" width="26" height="26" fill="#4d4d4d"/><rect x="1820.4" y="905.4" width="26" height="26" fill="#4d4d4d"/><rect x="1899.8" y="1188.1" width="26" height="26" fill="#4d4d4d"/><rect x="1979.1" y="1321.8" width="26" height="26" fill="#4d4d4d"/><rect x="2058.4" y="1316.7" width="26" height="26" fill="#4d4d4d"/><rect x="2137.7" y="1152.8" width="26" height="26" fill="#4d4d4d"/><rect x="2217.1" y="1146.9" width="26" height="26" fill="#4d4d4d"/>
<path d="M326.2,1331.3 L327.5,1329.6 L328.8,1327.9 L330.2,1326.2 L331.5,1324.5 L332.8,1322.8 L334.1,1321.1 L335.5,1319.3 L336.8,1317.5 L338.1,1315.8 L339.4,1314.0 L340.7,1312.1 L342.1,1310.3 L343.4,1308.5 L344.7,1306.6 L346.0,1304.7 L347.4,1302.8 L348.7,1300.9 L350.0,1299.0 L351.3,1297.0 L352.6,1295.1 L354.0,1293.1 L355.3,1291.2 L356.6,1289.2 L357.9,1287.2 L359.3,1285.1 L360.6,1283.1 L361.9,1281.0 L363.2,1279.0 L364.5,1276.9 L365.9,1274.8 L367.2,1272.7 L368.5,1270.6 L369.8,1268.5 L371.2,1266.3 L372.5,1264.2 L373.8,1262.0 L375.1,1259.8 L376.4,1257.7 L377.8,1255.5 L379.1,1253.2 L380.4,1251.0 L381.7,1248.8 L383.1,1246.5 L384.4,1244.3 L385.7,1242.0 L387.0,1239.7 L388.3,1237.4 L389.7,1235.1 L391.0,1232.8 L392.3,1230.5 L393.6,1228.1 L395.0,1225.8 L396.3,1223.4 L397.6,1221.0 L398.9,1218.7 L400.2,1216.3 L401.6,1213.9 L402.9,1211.5 L404.2,1209.0 L405.5,1206.6 L406.8,1204.2 L408.2,1201.7 L409.5,1199.3 L410.8,1196.8 L412.1,1194.3 L413.5,1191.8 L414.8,1189.3 L416.1,1186.8 L417.4,1184.3 L418.7,1181.8 L420.1,1179.3 L421.4,1176.7 L422.7,1174.2 L424.0,1171.6 L425.4,1169.0 L426.7,1166.5 L428.0,1163.9 L429.3,1161.3 L430.6,1158.7 L432.0,1156.1 L433.3,1153.5 L434.6,1150.9 L435.9,1148.3 L437.3,1145.6 L438.6,1143.0 L439.9,1140.3 L441.2,1137.7 L442.5,1135.0 L443.9,1132.4 L445.2,1129.7 L446.5,1127.0 L447.8,1124.3 L449.2,1121.6 L450.5,1118.9 L451.8,1116.2 L453.1,1113.5 L454.4,1110.8 L455.8,1108.1 L457.1,1105.4 L458.4,1102.6 L459.7,1099.9 L461.1,1097.2 L462.4,1094.4 L463.7,1091.7 L465.0,1088.9 L466.3,1086.2 L467.7,1083.4 L469.0,1080.6 L470.3,1077.9 L471.6,1075.1 L473.0,1072.3 L474.3,1069.5 L475.6,1066.7 L476.9,1063.9 L478.2,1061.2 L479.6,1058.4 L480.9,1055.6 L482.2,1052.8 L483.5,1049.9 L484.9,1047.1 L486.2,1044.3 L487.5,1041.5 L488.8,1038.7 L490.1,1035.9 L491.5,1033.0 L492.8,1030.2 L494.1,1027.4 L495.4,1024.6 L496.8,1021.8 L498.1,1018.9 L499.4,1016.1 L500.7,1013.3 L502.0,1010.5 L503.4,1007.7 L504.7,1004.8 L506.0,1002.0 L507.3,999.2 L508.7,996.4 L510.0,993.6 L511.3,990.8 L512.6,988.0 L513.9,985.2 L515.3,982.4 L516.6,979.7 L517.9,976.9 L519.2,974.1 L520.6,971.4 L521.9,968.6 L523.2,965.9 L524.5,963.1 L525.8,960.4 L527.2,957.7 L528.5,955.0 L529.8,952.3 L531.1,949.6 L532.5,946.9 L533.8,944.2 L535.1,941.6 L536.4,938.9 L537.7,936.3 L539.1,933.7 L540.4,931.1 L541.7,928.5 L543.0,925.9 L544.4,923.3 L545.7,920.8 L547.0,918.2 L548.3,915.7 L549.6,913.2 L551.0,910.7 L552.3,908.2 L553.6,905.7 L554.9,903.3 L556.2,900.8 L557.6,898.4 L558.9,896.0 L560.2,893.6 L561.5,891.3 L562.9,888.9 L564.2,886.6 L565.5,884.3 L566.8,882.0 L568.1,879.7 L569.5,877.5 L570.8,875.3 L572.1,873.0 L573.4,870.9 L574.8,868.7 L576.1,866.6 L577.4,864.5 L578.7,862.4 L580.0,860.3 L581.4,858.2 L582.7,856.2 L584.0,854.2 L585.3,852.3 L586.7,850.3 L588.0,848.4 L589.3,846.5 L590.6,844.6 L591.9,842.8 L593.3,841.0 L594.6,839.2 L595.9,837.4 L597.2,835.7 L598.6,834.0 L599.9,832.3 L601.2,830.7 L602.5,829.1 L603.8,827.5 L605.2,825.9 L606.5,824.4 L607.8,822.9 L609.1,821.4 L610.5,820.0 L611.8,818.6 L613.1,817.3 L614.4,815.9 L615.7,814.6 L617.1,813.4 L618.4,812.1 L619.7,810.9 L621.0,809.8 L622.4,808.6 L623.7,807.5 L625.0,806.5 L626.3,805.5 L627.6,804.5 L629.0,803.5 L630.3,802.6 L631.6,801.7 L632.9,800.9 L634.3,800.1 L635.6,799.3 L636.9,798.6 L638.2,797.9 L639.5,797.3 L640.9,796.7 L642.2,796.1 L643.5,795.6 L644.8,795.1 L646.2,794.7 L647.5,794.3 L648.8,794.1 L650.1,794.0 L651.4,794.1 L652.8,794.4 L654.1,794.8 L655.4,795.5 L656.7,796.3 L658.1,797.4 L659.4,798.5 L660.7,799.9 L662.0,801.4 L663.3,803.0 L664.7,804.7 L666.0,806.5 L667.3,808.5 L668.6,810.6 L670.0,812.8 L671.3,815.2 L672.6,817.7 L673.9,820.5 L675.2,823.3 L676.6,826.4 L677.9,829.6 L679.2,833.0 L680.5,836.6 L681.9,840.4 L683.2,844.3 L684.5,848.4 L685.8,852.6 L687.1,857.0 L688.5,861.6 L689.8,866.3 L691.1,871.1 L692.4,876.1 L693.8,881.2 L695.1,886.5 L696.4,891.9 L697.7,897.4 L699.0,903.1 L700.4,908.9 L701.7,914.8 L703.0,920.8 L704.3,926.9 L705.6,933.2 L707.0,939.5 L708.3,946.0 L709.6,952.6 L710.9,959.2 L712.3,966.0 L713.6,972.8 L714.9,979.8 L716.2,986.8 L717.5,993.9 L718.9,1001.1 L720.2,1008.4 L721.5,1015.7 L722.8,1023.1 L724.2,1030.6 L725.5,1038.2 L726.8,1045.8 L728.1,1053.4 L729.4,1061.2 L730.8,1068.9 L732.1,1076.8 L733.4,1084.6 L734.7,1092.5 L736.1,1100.5 L737.4,1108.4 L738.7,1116.5 L740.0,1124.5 L741.3,1132.6 L742.7,1140.6 L744.0,1148.7 L745.3,1156.8 L746.6,1164.8 L748.0,1172.8 L749.3,1180.8 L750.6,1188.8 L751.9,1196.7 L753.2,1204.6 L754.6,1212.4 L755.9,1220.2 L757.2,1227.8 L758.5,1235.4 L759.9,1242.9 L761.2,1250.3 L762.5,1257.6 L763.8,1264.8 L765.1,1271.8 L766.5,1278.8 L767.8,1285.6 L769.1,1292.2 L770.4,1298.7 L771.8,1305.0 L773.1,1311.2 L774.4,1317.2 L775.7,1323.0 L777.0,1328.6 L778.4,1334.1 L779.7,1339.3 L781.0,1344.3 L782.3,1349.1 L783.7,1353.8 L785.0,1358.3 L786.3,1362.6 L787.6,1366.8 L788.9,1370.8 L790.3,1374.7 L791.6,1378.4 L792.9,1382.0 L794.2,1385.6 L795.6,1389.0 L796.9,1392.3 L798.2,1395.6 L799.5,1398.7 L800.8,1401.8 L802.2,1404.9 L803.5,1407.8 L804.8,1410.8 L806.1,1413.7 L807.5,1416.5 L808.8,1419.2 L810.1,1421.9 L811.4,1424.6 L812.7,1427.2 L814.1,1429.7 L815.4,1432.1 L816.7,1434.5 L818.0,1436.8 L819.4,1439.1 L820.7,1441.2 L822.0,1443.3 L823.3,1445.3 L824.6,1447.3 L826.0,1449.1 L827.3,1450.9 L828.6,1452.5 L829.9,1454.1 L831.3,1455.6 L832.6,1457.0 L833.9,1458.4 L835.2,1459.6 L836.5,1460.7 L837.9,1461.7 L839.2,1462.7 L840.5,1463.5 L841.8,1464.2 L843.2,1464.8 L844.5,1465.3 L845.8,1465.7 L847.1,1466.0 L848.4,1466.2 L849.8,1466.2 L851.1,1466.2 L852.4,1466.0 L853.7,1465.7 L855.0,1465.3 L856.4,1464.8 L857.7,1464.2 L859.0,1463.5 L860.3,1462.7 L861.7,1461.9 L863.0,1461.0 L864.3,1460.0 L865.6,1458.9 L866.9,1457.8 L868.3,1456.7 L869.6,1455.5 L870.9,1454.2 L872.2,1452.9 L873.6,1451.6 L874.9,1450.3 L876.2,1448.9 L877.5,1447.6 L878.8,1446.2 L880.2,1444.8 L881.5,1443.4 L882.8,1442.1 L884.1,1440.7 L885.5,1439.4 L886.8,1438.0 L888.1,1436.7 L889.4,1435.4 L890.7,1434.1 L892.1,1432.7 L893.4,1431.4 L894.7,1430.1 L896.0,1428.9 L897.4,1427.6 L898.7,1426.3 L900.0,1425.0 L901.3,1423.7 L902.6,1422.5 L904.0,1421.2 L905.3,1419.9 L906.6,1418.7 L907.9,1417.4 L909.3,1416.2 L910.6,1415.0 L911.9,1413.7 L913.2,1412.5 L914.5,1411.2 L915.9,1410.0 L917.2,1408.8 L918.5,1407.5 L919.8,1406.3 L921.2,1405.1 L922.5,1403.8 L923.8,1402.6 L925.1,1401.4 L926.4,1400.1 L927.8,1398.9 L929.1,1397.7 L930.4,1396.4 L931.7,1395.2 L933.1,1394.0 L934.4,1392.7 L935.7,1391.5 L937.0,1390.2 L938.3,1389.0 L939.7,1387.7 L941.0,1386.5 L942.3,1385.2 L943.6,1383.9 L945.0,1382.7 L946.3,1381.4 L947.6,1380.1 L948.9,1378.8 L950.2,1377.5 L951.6,1376.2 L952.9,1374.9 L954.2,1373.6 L955.5,1372.3 L956.9,1371.0 L958.2,1369.6 L959.5,1368.3 L960.8,1367.0 L962.1,1365.6 L963.5,1364.2 L964.8,1362.9 L966.1,1361.5 L967.4,1360.1 L968.8,1358.7 L970.1,1357.3 L971.4,1355.8 L972.7,1354.4 L974.0,1353.0 L975.4,1351.5 L976.7,1350.1 L978.0,1348.6 L979.3,1347.1 L980.7,1345.6 L982.0,1344.1 L983.3,1342.5 L984.6,1341.0 L985.9,1339.5 L987.3,1337.9 L988.6,1336.3 L989.9,1334.7 L991.2,1333.1 L992.6,1331.5 L993.9,1329.8 L995.2,1328.2 L996.5,1326.5 L997.8,1324.8 L999.2,1323.1 L1000.5,1321.4 L1001.8,1319.7 L1003.1,1317.9 L1004.5,1316.1 L1005.8,1314.3 L1007.1,1312.5 L1008.4,1310.7 L1009.7,1308.9 L1011.1,1307.0 L1012.4,1305.1 L1013.7,1303.2 L1015.0,1301.3 L1016.3,1299.4 L1017.7,1297.4 L1019.0,1295.4 L1020.3,1293.4 L1021.6,1291.4 L1023.0,1289.3 L1024.3,1287.3 L1025.6,1285.2 L1026.9,1283.1 L1028.2,1281.0 L1029.6,1278.9 L1030.9,1276.8 L1032.2,1274.6 L1033.5,1272.5 L1034.9,1270.4 L1036.2,1268.3 L1037.5,1266.2 L1038.8,1264.1 L1040.1,1262.0 L1041.5,1260.0 L1042.8,1257.9 L1044.1,1255.9 L1045.4,1253.9 L1046.8,1251.9 L1048.1,1249.9 L1049.4,1247.9 L1050.7,1245.9 L1052.0,1244.0 L1053.4,1242.0 L1054.7,1240.1 L1056.0,1238.1 L1057.3,1236.1 L1058.7,1234.2 L1060.0,1232.2 L1061.3,1230.2 L1062.6,1228.3 L1063.9,1226.3 L1065.3,1224.3 L1066.6,1222.3 L1067.9,1220.3 L1069.2,1218.2 L1070.6,1216.2 L1071.9,1214.1 L1073.2,1212.0 L1074.5,1209.9 L1075.8,1207.8 L1077.2,1205.6 L1078.5,1203.4 L1079.8,1201.2 L1081.1,1199.0 L1082.5,1196.7 L1083.8,1194.5 L1085.1,1192.1 L1086.4,1189.8 L1087.7,1187.4 L1089.1,1184.9 L1090.4,1182.4 L1091.7,1179.9 L1093.0,1177.4 L1094.4,1174.8 L1095.7,1172.1 L1097.0,1169.4 L1098.3,1166.7 L1099.6,1163.9 L1101.0,1161.1 L1102.3,1158.2 L1103.6,1155.3 L1104.9,1152.3 L1106.3,1149.3 L1107.6,1146.3 L1108.9,1143.2 L1110.2,1140.1 L1111.5,1136.9 L1112.9,1133.8 L1114.2,1130.6 L1115.5,1127.3 L1116.8,1124.0 L1118.2,1120.8 L1119.5,1117.4 L1120.8,1114.1 L1122.1,1110.7 L1123.4,1107.3 L1124.8,1103.9 L1126.1,1100.5 L1127.4,1097.0 L1128.7,1093.5 L1130.1,1090.0 L1131.4,1086.5 L1132.7,1083.0 L1134.0,1079.5 L1135.3,1075.9 L1136.7,1072.4 L1138.0,1068.8 L1139.3,1065.3 L1140.6,1061.7 L1142.0,1058.1 L1143.3,1054.5 L1144.6,1050.9 L1145.9,1047.3 L1147.2,1043.7 L1148.6,1040.2 L1149.9,1036.6 L1151.2,1033.0 L1152.5,1029.4 L1153.9,1025.9 L1155.2,1022.3 L1156.5,1018.8 L1157.8,1015.2 L1159.1,1011.7 L1160.5,1008.2 L1161.8,1004.8 L1163.1,1001.3 L1164.4,997.9 L1165.7,994.5 L1167.1,991.2 L1168.4,987.9 L1169.7,984.6 L1171.0,981.3 L1172.4,978.1 L1173.7,974.9 L1175.0,971.8 L1176.3,968.7 L1177.6,965.7 L1179.0,962.6 L1180.3,959.7 L1181.6,956.8 L1182.9,953.9 L1184.3,951.1 L1185.6,948.3 L1186.9,945.5 L1188.2,942.8 L1189.5,940.2 L1190.9,937.6 L1192.2,935.0 L1193.5,932.5 L1194.8,930.0 L1196.2,927.6 L1197.5,925.2 L1198.8,922.9 L1200.1,920.6 L1201.4,918.3 L1202.8,916.1 L1204.1,914.0 L1205.4,911.8 L1206.7,909.7 L1208.1,907.6 L1209.4,905.5 L1210.7,903.5 L1212.0,901.4 L1213.3,899.4 L1214.7,897.3 L1216.0,895.3 L1217.3,893.3 L1218.6,891.2 L1220.0,889.1 L1221.3,887.0 L1222.6,884.9 L1223.9,882.8 L1225.2,880.6 L1226.6,878.4 L1227.9,876.2 L1229.2,874.0 L1230.5,871.7 L1231.9,869.4 L1233.2,867.2 L1234.5,864.9 L1235.8,862.6 L1237.1,860.3 L1238.5,858.0 L1239.8,855.7 L1241.1,853.4 L1242.4,851.1 L1243.8,848.9 L1245.1,846.6 L1246.4,844.4 L1247.7,842.2 L1249.0,840.1 L1250.4,837.9 L1251.7,835.8 L1253.0,833.8 L1254.3,831.8 L1255.7,829.8 L1257.0,827.9 L1258.3,826.0 L1259.6,824.2 L1260.9,822.4 L1262.3,820.7 L1263.6,819.1 L1264.9,817.6 L1266.2,816.1 L1267.6,814.7 L1268.9,813.3 L1270.2,812.1 L1271.5,810.9 L1272.8,809.8 L1274.2,808.8 L1275.5,807.9 L1276.8,807.1 L1278.1,806.4 L1279.5,805.8 L1280.8,805.4 L1282.1,805.0 L1283.4,804.7 L1284.7,804.5 L1286.1,804.4 L1287.4,804.4 L1288.7,804.5 L1290.0,804.6 L1291.4,804.9 L1292.7,805.3 L1294.0,805.7 L1295.3,806.3 L1296.6,807.0 L1298.0,807.8 L1299.3,808.8 L1300.6,809.8 L1301.9,811.0 L1303.3,812.4 L1304.6,813.9 L1305.9,815.5 L1307.2,817.4 L1308.5,819.3 L1309.9,821.5 L1311.2,823.8 L1312.5,826.3 L1313.8,829.0 L1315.1,831.8 L1316.5,834.9 L1317.8,838.2 L1319.1,841.7 L1320.4,845.4 L1321.8,849.3 L1323.1,853.4 L1324.4,857.8 L1325.7,862.4 L1327.0,867.2 L1328.4,872.3 L1329.7,877.6 L1331.0,883.0 L1332.3,888.7 L1333.7,894.6 L1335.0,900.7 L1336.3,907.0 L1337.6,913.4 L1338.9,920.0 L1340.3,926.8 L1341.6,933.8 L1342.9,940.9 L1344.2,948.1 L1345.6,955.6 L1346.9,963.1 L1348.2,970.8 L1349.5,978.6 L1350.8,986.6 L1352.2,994.6 L1353.5,1002.8 L1354.8,1011.1 L1356.1,1019.5 L1357.5,1028.0 L1358.8,1036.6 L1360.1,1045.2 L1361.4,1053.9 L1362.7,1062.8 L1364.1,1071.6 L1365.4,1080.6 L1366.7,1089.6 L1368.0,1098.6 L1369.4,1107.7 L1370.7,1116.8 L1372.0,1126.0 L1373.3,1135.2 L1374.6,1144.4 L1376.0,1153.6 L1377.3,1162.8 L1378.6,1172.0 L1379.9,1181.2 L1381.3,1190.3 L1382.6,1199.3 L1383.9,1208.2 L1385.2,1217.0 L1386.5,1225.7 L1387.9,1234.2 L1389.2,1242.6 L1390.5,1250.8 L1391.8,1258.8 L1393.2,1266.5 L1394.5,1274.0 L1395.8,1281.3 L1397.1,1288.2 L1398.4,1294.9 L1399.8,1301.1 L1401.1,1307.0 L1402.4,1312.5 L1403.7,1317.7 L1405.1,1322.6 L1406.4,1327.1 L1407.7,1331.2 L1409.0,1335.1 L1410.3,1338.6 L1411.7,1341.9 L1413.0,1344.9 L1414.3,1347.5 L1415.6,1350.0 L1417.0,1352.1 L1418.3,1354.0 L1419.6,1355.7 L1420.9,1357.1 L1422.2,1358.4 L1423.6,1359.6 L1424.9,1360.6 L1426.2,1361.5 L1427.5,1362.4 L1428.9,1363.2 L1430.2,1364.0 L1431.5,1364.8 L1432.8,1365.6 L1434.1,1366.5 L1435.5,1367.5 L1436.8,1368.6 L1438.1,1369.9 L1439.4,1371.3 L1440.8,1372.8 L1442.1,1374.4 L1443.4,1376.1 L1444.7,1377.9 L1446.0,1379.9 L1447.4,1381.9 L1448.7,1383.9 L1450.0,1386.0 L1451.3,1388.2 L1452.7,1390.5 L1454.0,1392.7 L1455.3,1395.0 L1456.6,1397.3 L1457.9,1399.6 L1459.3,1401.9 L1460.6,1404.2 L1461.9,1406.4 L1463.2,1408.7 L1464.5,1410.9 L1465.9,1413.0 L1467.2,1415.1 L1468.5,1417.1 L1469.8,1419.1 L1471.2,1421.0 L1472.5,1422.7 L1473.8,1424.4 L1475.1,1426.0 L1476.4,1427.4 L1477.8,1428.8 L1479.1,1430.1 L1480.4,1431.3 L1481.7,1432.4 L1483.1,1433.6 L1484.4,1434.6 L1485.7,1435.7 L1487.0,1436.7 L1488.3,1437.8 L1489.7,1438.8 L1491.0,1439.9 L1492.3,1441.0 L1493.6,1442.1 L1495.0,1443.3 L1496.3,1444.4 L1497.6,1445.5 L1498.9,1446.6 L1500.2,1447.5 L1501.6,1448.4 L1502.9,1449.1 L1504.2,1449.7 L1505.5,1450.1 L1506.9,1450.3 L1508.2,1450.3 L1509.5,1450.0 L1510.8,1449.5 L1512.1,1448.9 L1513.5,1448.1 L1514.8,1447.3 L1516.1,1446.4 L1517.4,1445.5 L1518.8,1444.5 L1520.1,1443.6 L1521.4,1442.7 L1522.7,1441.8 L1524.0,1440.9 L1525.4,1439.9 L1526.7,1439.0 L1528.0,1438.1 L1529.3,1437.2 L1530.7,1436.2 L1532.0,1435.3 L1533.3,1434.4 L1534.6,1433.4 L1535.9,1432.5 L1537.3,1431.5 L1538.6,1430.6 L1539.9,1429.6 L1541.2,1428.6 L1542.6,1427.7 L1543.9,1426.7 L1545.2,1425.7 L1546.5,1424.8 L1547.8,1423.8 L1549.2,1422.8 L1550.5,1421.8 L1551.8,1420.8 L1553.1,1419.8 L1554.5,1418.8 L1555.8,1417.8 L1557.1,1416.8 L1558.4,1415.8 L1559.7,1414.7 L1561.1,1413.7 L1562.4,1412.7 L1563.7,1411.6 L1565.0,1410.6 L1566.4,1409.5 L1567.7,1408.4 L1569.0,1407.4 L1570.3,1406.3 L1571.6,1405.2 L1573.0,1404.1 L1574.3,1403.0 L1575.6,1401.9 L1576.9,1400.8 L1578.3,1399.7 L1579.6,1398.6 L1580.9,1397.5 L1582.2,1396.3 L1583.5,1395.2 L1584.9,1394.0 L1586.2,1392.9 L1587.5,1391.7 L1588.8,1390.5 L1590.2,1389.3 L1591.5,1388.2 L1592.8,1387.0 L1594.1,1385.7 L1595.4,1384.5 L1596.8,1383.3 L1598.1,1382.1 L1599.4,1380.8 L1600.7,1379.6 L1602.1,1378.3 L1603.4,1377.0 L1604.7,1375.8 L1606.0,1374.5 L1607.3,1373.2 L1608.7,1371.9 L1610.0,1370.5 L1611.3,1369.2 L1612.6,1367.9 L1613.9,1366.5 L1615.3,1365.2 L1616.6,1363.8 L1617.9,1362.4 L1619.2,1361.0 L1620.6,1359.6 L1621.9,1358.2 L1623.2,1356.8 L1624.5,1355.3 L1625.8,1353.9 L1627.2,1352.4 L1628.5,1351.0 L1629.8,1349.5 L1631.1,1348.0 L1632.5,1346.5 L1633.8,1345.0 L1635.1,1343.4 L1636.4,1341.9 L1637.7,1340.3 L1639.1,1338.8 L1640.4,1337.2 L1641.7,1335.6 L1643.0,1334.0 L1644.4,1332.4 L1645.7,1330.7 L1647.0,1329.1 L1648.3,1327.4 L1649.6,1325.8 L1651.0,1324.1 L1652.3,1322.4 L1653.6,1320.7 L1654.9,1318.9 L1656.3,1317.2 L1657.6,1315.5 L1658.9,1313.7 L1660.2,1311.9 L1661.5,1310.1 L1662.9,1308.3 L1664.2,1306.5 L1665.5,1304.6 L1666.8,1302.8 L1668.2,1300.9 L1669.5,1299.0 L1670.8,1297.1 L1672.1,1295.2 L1673.4,1293.3 L1674.8,1291.3 L1676.1,1289.4 L1677.4,1287.4 L1678.7,1285.4 L1680.1,1283.4 L1681.4,1281.3 L1682.7,1279.3 L1684.0,1277.2 L1685.3,1275.2 L1686.7,1273.1 L1688.0,1271.0 L1689.3,1268.8 L1690.6,1266.7 L1692.0,1264.5 L1693.3,1262.4 L1694.6,1260.2 L1695.9,1258.0 L1697.2,1255.7 L1698.6,1253.5 L1699.9,1251.2 L1701.2,1249.0 L1702.5,1246.7 L1703.9,1244.3 L1705.2,1242.0 L1706.5,1239.7 L1707.8,1237.3 L1709.1,1234.9 L1710.5,1232.5 L1711.8,1230.1 L1713.1,1227.7 L1714.4,1225.2 L1715.8,1222.7 L1717.1,1220.3 L1718.4,1217.7 L1719.7,1215.2 L1721.0,1212.7 L1722.4,1210.1 L1723.7,1207.5 L1725.0,1204.9 L1726.3,1202.3 L1727.7,1199.7 L1729.0,1197.0 L1730.3,1194.3 L1731.6,1191.7 L1732.9,1188.9 L1734.3,1186.2 L1735.6,1183.5 L1736.9,1180.7 L1738.2,1177.9 L1739.6,1175.1 L1740.9,1172.3 L1742.2,1169.4 L1743.5,1166.5 L1744.8,1163.7 L1746.2,1160.7 L1747.5,1157.8 L1748.8,1154.9 L1750.1,1151.9 L1751.5,1148.9 L1752.8,1145.9 L1754.1,1142.9 L1755.4,1139.8 L1756.7,1136.8 L1758.1,1133.7 L1759.4,1130.6 L1760.7,1127.4 L1762.0,1124.3 L1763.3,1121.1 L1764.7,1118.0 L1766.0,1114.8 L1767.3,1111.6 L1768.6,1108.3 L1770.0,1105.1 L1771.3,1101.8 L1772.6,1098.6 L1773.9,1095.3 L1775.2,1092.0 L1776.6,1088.7 L1777.9,1085.4 L1779.2,1082.0 L1780.5,1078.7 L1781.9,1075.3 L1783.2,1072.0 L1784.5,1068.6 L1785.8,1065.2 L1787.1,1061.8 L1788.5,1058.4 L1789.8,1055.0 L1791.1,1051.6 L1792.4,1048.2 L1793.8,1044.8 L1795.1,1041.3 L1796.4,1037.9 L1797.7,1034.5 L1799.0,1031.0 L1800.4,1027.6 L1801.7,1024.1 L1803.0,1020.7 L1804.3,1017.2 L1805.7,1013.7 L1807.0,1010.3 L1808.3,1006.8 L1809.6,1003.4 L1810.9,999.9 L1812.3,996.4 L1813.6,993.0 L1814.9,989.5 L1816.2,986.1 L1817.6,982.6 L1818.9,979.2 L1820.2,975.7 L1821.5,972.3 L1822.8,968.8 L1824.2,965.4 L1825.5,962.0 L1826.8,958.5 L1828.1,955.1 L1829.5,951.7 L1830.8,948.3 L1832.1,944.9 L1833.4,941.5 L1834.7,938.2 L1836.1,934.8 L1837.4,931.4 L1838.7,928.1 L1840.0,924.8 L1841.4,921.5 L1842.7,918.2 L1844.0,914.9 L1845.3,911.6 L1846.6,908.4 L1848.0,905.2 L1849.3,902.0 L1850.6,898.8 L1851.9,895.7 L1853.3,892.5 L1854.6,889.5 L1855.9,886.4 L1857.2,883.4 L1858.5,880.4 L1859.9,877.4 L1861.2,874.5 L1862.5,871.6 L1863.8,868.7 L1865.2,865.9 L1866.5,863.1 L1867.8,860.4 L1869.1,857.7 L1870.4,855.1 L1871.8,852.4 L1873.1,849.9 L1874.4,847.4 L1875.7,844.9 L1877.1,842.5 L1878.4,840.1 L1879.7,837.8 L1881.0,835.6 L1882.3,833.4 L1883.7,831.2 L1885.0,829.1 L1886.3,827.1 L1887.6,825.1 L1889.0,823.2 L1890.3,821.4 L1891.6,819.6 L1892.9,817.9 L1894.2,816.2 L1895.6,814.6 L1896.9,813.1 L1898.2,811.7 L1899.5,810.3 L1900.9,809.0 L1902.2,807.8 L1903.5,806.6 L1904.8,805.5 L1906.1,804.6 L1907.5,803.6 L1908.8,802.8 L1910.1,802.1 L1911.4,801.4 L1912.8,800.8 L1914.1,800.3 L1915.4,799.9 L1916.7,799.6 L1918.0,799.3 L1919.4,799.2 L1920.7,799.1 L1922.0,799.2 L1923.3,799.3 L1924.6,799.5 L1926.0,799.9 L1927.3,800.3 L1928.6,800.8 L1929.9,801.4 L1931.3,802.2 L1932.6,803.0 L1933.9,803.9 L1935.2,805.0 L1936.5,806.1 L1937.9,807.4 L1939.2,808.8 L1940.5,810.2 L1941.8,811.8 L1943.2,813.5 L1944.5,815.4 L1945.8,817.3 L1947.1,819.4 L1948.4,821.5 L1949.8,823.8 L1951.1,826.3 L1952.4,828.8 L1953.7,831.5 L1955.1,834.4 L1956.4,837.5 L1957.7,840.7 L1959.0,844.2 L1960.3,848.0 L1961.7,852.0 L1963.0,856.2 L1964.3,860.7 L1965.6,865.6 L1967.0,870.7 L1968.3,876.2 L1969.6,882.1 L1970.9,888.3 L1972.2,894.8 L1973.6,901.8 L1974.9,909.2 L1976.2,916.8 L1977.5,924.8 L1978.9,933.1 L1980.2,941.6 L1981.5,950.3 L1982.8,959.2 L1984.1,968.3 L1985.5,977.5 L1986.8,986.8 L1988.1,996.2 L1989.4,1005.7 L1990.8,1015.2 L1992.1,1024.6 L1993.4,1034.1 L1994.7,1043.4 L1996.0,1052.7 L1997.4,1061.9 L1998.7,1070.9 L2000.0,1079.7 L2001.3,1088.3 L2002.7,1096.7 L2004.0,1104.9 L2005.3,1112.9 L2006.6,1120.7 L2007.9,1128.4 L2009.3,1136.0 L2010.6,1143.5 L2011.9,1150.9 L2013.2,1158.3 L2014.6,1165.7 L2015.9,1173.1 L2017.2,1180.6 L2018.5,1188.1 L2019.8,1195.6 L2021.2,1203.1 L2022.5,1210.6 L2023.8,1218.1 L2025.1,1225.5 L2026.5,1232.8 L2027.8,1240.1 L2029.1,1247.1 L2030.4,1254.1 L2031.7,1260.8 L2033.1,1267.4 L2034.4,1273.8 L2035.7,1280.0 L2037.0,1286.0 L2038.4,1291.7 L2039.7,1297.3 L2041.0,1302.7 L2042.3,1307.8 L2043.6,1312.8 L2045.0,1317.5 L2046.3,1321.9 L2047.6,1326.2 L2048.9,1330.2 L2050.3,1334.0 L2051.6,1337.6 L2052.9,1340.8 L2054.2,1343.9 L2055.5,1346.7 L2056.9,1349.2 L2058.2,1351.5 L2059.5,1353.6 L2060.8,1355.4 L2062.2,1357.2 L2063.5,1358.8 L2064.8,1360.3 L2066.1,1361.8 L2067.4,1363.3 L2068.8,1364.8 L2070.1,1366.5 L2071.4,1368.2 L2072.7,1370.2 L2074.0,1372.2 L2075.4,1374.4 L2076.7,1376.8 L2078.0,1379.2 L2079.3,1381.7 L2080.7,1384.3 L2082.0,1387.0 L2083.3,1389.8 L2084.6,1392.5 L2085.9,1395.3 L2087.3,1398.1 L2088.6,1401.0 L2089.9,1403.8 L2091.2,1406.5 L2092.6,1409.3 L2093.9,1412.0 L2095.2,1414.6 L2096.5,1417.1 L2097.8,1419.5 L2099.2,1421.9 L2100.5,1424.1 L2101.8,1426.1 L2103.1,1428.0 L2104.5,1429.8 L2105.8,1431.4 L2107.1,1432.9 L2108.4,1434.2 L2109.7,1435.4 L2111.1,1436.5 L2112.4,1437.5 L2113.7,1438.3 L2115.0,1439.0 L2116.4,1439.6 L2117.7,1440.1 L2119.0,1440.4 L2120.3,1440.7 L2121.6,1440.8 L2123.0,1440.9 L2124.3,1440.9 L2125.6,1440.8 L2126.9,1440.6 L2128.3,1440.3 L2129.6,1439.9 L2130.9,1439.5 L2132.2,1439.0 L2133.5,1438.4 L2134.9,1437.8 L2136.2,1437.1 L2137.5,1436.3 L2138.8,1435.5 L2140.2,1434.7 L2141.5,1433.8 L2142.8,1432.9 L2144.1,1431.9 L2145.4,1430.9 L2146.8,1429.9 L2148.1,1428.8 L2149.4,1427.7 L2150.7,1426.6 L2152.1,1425.5 L2153.4,1424.4 L2154.7,1423.3 L2156.0,1422.2 L2157.3,1421.0 L2158.7,1419.8 L2160.0,1418.6 L2161.3,1417.4 L2162.6,1416.2 L2164.0,1415.0 L2165.3,1413.8 L2166.6,1412.5 L2167.9,1411.2 L2169.2,1409.9 L2170.6,1408.6 L2171.9,1407.3 L2173.2,1406.0 L2174.5,1404.6 L2175.9,1403.3 L2177.2,1401.9 L2178.5,1400.5 L2179.8,1399.1 L2181.1,1397.6 L2182.5,1396.2 L2183.8,1394.7 L2185.1,1393.2 L2186.4,1391.7 L2187.8,1390.2 L2189.1,1388.6 L2190.4,1387.1 L2191.7,1385.5 L2193.0,1383.9 L2194.4,1382.3 L2195.7,1380.7 L2197.0,1379.0 L2198.3,1377.3 L2199.7,1375.6 L2201.0,1373.9 L2202.3,1372.2 L2203.6,1370.4 L2204.9,1368.7 L2206.3,1366.9 L2207.6,1365.0 L2208.9,1363.2 L2210.2,1361.4 L2211.6,1359.5 L2212.9,1357.6 L2214.2,1355.7 L2215.5,1353.7 L2216.8,1351.7 L2218.2,1349.8 L2219.5,1347.7 L2220.8,1345.7 L2222.1,1343.7 L2223.4,1341.6 L2224.8,1339.5 L2226.1,1337.4 L2227.4,1335.2 L2228.7,1333.0 L2230.1,1330.8" fill="none" stroke="#ff0000" stroke-width="10" stroke-linejoin="round" stroke-linecap="round"/>
<circle cx="326.2" cy="1331.3" r="14" fill="#ff0000"/><circle cx="405.5" cy="1206.6" r="14" fill="#ff0000"/><circle cx="484.9" cy="1047.1" r="14" fill="#ff0000"/><circle cx="564.2" cy="886.6" r="14" fill="#ff0000"/><circle cx="643.5" cy="795.6" r="14" fill="#ff0000"/><circle cx="722.8" cy="1023.1" r="14" fill="#ff0000"/><circle cx="802.2" cy="1404.9" r="14" fill="#ff0000"/><circle cx="881.5" cy="1443.4" r="14" fill="#ff0000"/><circle cx="960.8" cy="1367.0" r="14" fill="#ff0000"/><circle cx="1040.1" cy="1262.0" r="14" fill="#ff0000"/><circle cx="1119.5" cy="1117.4" r="14" fill="#ff0000"/><circle cx="1198.8" cy="922.9" r="14" fill="#ff0000"/><circle cx="1278.1" cy="806.4" r="14" fill="#ff0000"/><circle cx="1357.5" cy="1028.0" r="14" fill="#ff0000"/><circle cx="1436.8" cy="1368.6" r="14" fill="#ff0000"/><circle cx="1516.1" cy="1446.4" r="14" fill="#ff0000"/><circle cx="1595.4" cy="1384.5" r="14" fill="#ff0000"/><circle cx="1674.8" cy="1291.3" r="14" fill="#ff0000"/><circle cx="1754.1" cy="1142.9" r="14" fill="#ff0000"/><circle cx="1833.4" cy="941.5" r="14" fill="#ff0000"/><circle cx="1912.8" cy="800.8" r="14" fill="#ff0000"/><circle cx="1992.1" cy="1024.6" r="14" fill="#ff0000"/><circle cx="2071.4" cy="1368.2" r="14" fill="#ff0000"/><circle cx="2150.7" cy="1426.6" r="14" fill="#ff0000"/><circle cx="2230.1" cy="1330.8" r="14" fill="#ff0000"/>
<path d="M326.2,1424.0 L327.5,1423.1 L328.8,1422.2 L330.2,1421.3 L331.5,1420.3 L332.8,1419.4 L334.1,1418.3 L335.5,1417.3 L336.8,1416.2 L338.1,1415.1 L339.4,1414.0 L340.7,1412.8 L342.1,1411.6 L343.4,1410.4 L344.7,1409.2 L346.0,1407.9 L347.4,1406.6 L348.7,1405.3 L350.0,1404.0 L351.3,1402.6 L352.6,1401.2 L354.0,1399.8 L355.3,1398.4 L356.6,1397.0 L357.9,1395.6 L359.3,1394.1 L360.6,1392.6 L361.9,1391.1 L363.2,1389.6 L364.5,1388.1 L365.9,1386.6 L367.2,1385.0 L368.5,1383.5 L369.8,1381.9 L371.2,1380.3 L372.5,1378.8 L373.8,1377.2 L375.1,1375.6 L376.4,1374.0 L377.8,1372.4 L379.1,1370.8 L380.4,1369.2 L381.7,1367.6 L383.1,1366.0 L384.4,1364.4 L385.7,1362.8 L387.0,1361.1 L388.3,1359.5 L389.7,1357.9 L391.0,1356.3 L392.3,1354.7 L393.6,1353.1 L395.0,1351.6 L396.3,1350.0 L397.6,1348.4 L398.9,1346.9 L400.2,1345.3 L401.6,1343.8 L402.9,1342.2 L404.2,1340.7 L405.5,1339.2 L406.8,1337.7 L408.2,1336.2 L409.5,1334.8 L410.8,1333.3 L412.1,1331.8 L413.5,1330.4 L414.8,1328.9 L416.1,1327.4 L417.4,1325.9 L418.7,1324.4 L420.1,1322.9 L421.4,1321.4 L422.7,1319.8 L424.0,1318.3 L425.4,1316.7 L426.7,1315.0 L428.0,1313.4 L429.3,1311.7 L430.6,1310.0 L432.0,1308.2 L433.3,1306.4 L434.6,1304.5 L435.9,1302.6 L437.3,1300.7 L438.6,1298.7 L439.9,1296.6 L441.2,1294.5 L442.5,1292.3 L443.9,1290.1 L445.2,1287.8 L446.5,1285.4 L447.8,1283.0 L449.2,1280.5 L450.5,1278.0 L451.8,1275.4 L453.1,1272.8 L454.4,1270.1 L455.8,1267.3 L457.1,1264.5 L458.4,1261.7 L459.7,1258.8 L461.1,1255.8 L462.4,1252.9 L463.7,1249.8 L465.0,1246.7 L466.3,1243.6 L467.7,1240.4 L469.0,1237.2 L470.3,1233.9 L471.6,1230.6 L473.0,1227.2 L474.3,1223.8 L475.6,1220.3 L476.9,1216.8 L478.2,1213.3 L479.6,1209.7 L480.9,1206.1 L482.2,1202.4 L483.5,1198.7 L484.9,1195.0 L486.2,1191.3 L487.5,1187.4 L488.8,1183.6 L490.1,1179.7 L491.5,1175.8 L492.8,1171.9 L494.1,1167.9 L495.4,1163.9 L496.8,1159.9 L498.1,1155.8 L499.4,1151.7 L500.7,1147.6 L502.0,1143.4 L503.4,1139.2 L504.7,1135.0 L506.0,1130.8 L507.3,1126.5 L508.7,1122.2 L510.0,1117.9 L511.3,1113.6 L512.6,1109.2 L513.9,1104.8 L515.3,1100.4 L516.6,1096.0 L517.9,1091.5 L519.2,1087.1 L520.6,1082.6 L521.9,1078.1 L523.2,1073.6 L524.5,1069.0 L525.8,1064.5 L527.2,1059.9 L528.5,1055.3 L529.8,1050.7 L531.1,1046.1 L532.5,1041.5 L533.8,1036.8 L535.1,1032.2 L536.4,1027.5 L537.7,1022.9 L539.1,1018.2 L540.4,1013.5 L541.7,1008.8 L543.0,1004.1 L544.4,999.4 L545.7,994.6 L547.0,989.9 L548.3,985.2 L549.6,980.4 L551.0,975.7 L552.3,970.9 L553.6,966.2 L554.9,961.4 L556.2,956.7 L557.6,951.9 L558.9,947.1 L560.2,942.4 L561.5,937.6 L562.9,932.8 L564.2,928.1 L565.5,923.3 L566.8,918.5 L568.1,913.8 L569.5,909.0 L570.8,904.3 L572.1,899.6 L573.4,894.8 L574.8,890.1 L576.1,885.4 L577.4,880.6 L578.7,875.9 L580.0,871.2 L581.4,866.5 L582.7,861.8 L584.0,857.2 L585.3,852.5 L586.7,847.9 L588.0,843.2 L589.3,838.6 L590.6,834.0 L591.9,829.4 L593.3,824.8 L594.6,820.2 L595.9,815.6 L597.2,811.1 L598.6,806.6 L599.9,802.1 L601.2,797.6 L602.5,793.1 L603.8,788.7 L605.2,784.2 L606.5,779.8 L607.8,775.4 L609.1,771.0 L610.5,766.7 L611.8,762.4 L613.1,758.1 L614.4,753.8 L615.7,749.5 L617.1,745.3 L618.4,741.1 L619.7,736.9 L621.0,732.8 L622.4,728.6 L623.7,724.5 L625.0,720.5 L626.3,716.4 L627.6,712.4 L629.0,708.4 L630.3,704.5 L631.6,700.6 L632.9,696.7 L634.3,692.8 L635.6,689.0 L636.9,685.2 L638.2,681.5 L639.5,677.8 L640.9,674.1 L642.2,670.4 L643.5,666.8 L644.8,663.3 L646.2,659.7 L647.5,656.2 L648.8,652.8 L650.1,649.4 L651.4,646.1 L652.8,642.8 L654.1,639.5 L655.4,636.3 L656.7,633.2 L658.1,630.1 L659.4,627.1 L660.7,624.2 L662.0,621.3 L663.3,618.5 L664.7,615.8 L666.0,613.1 L667.3,610.6 L668.6,608.1 L670.0,605.6 L671.3,603.3 L672.6,601.1 L673.9,598.9 L675.2,596.8 L676.6,594.8 L677.9,592.9 L679.2,591.1 L680.5,589.3 L681.9,587.6 L683.2,586.0 L684.5,584.5 L685.8,583.0 L687.1,581.7 L688.5,580.3 L689.8,579.1 L691.1,577.9 L692.4,576.7 L693.8,575.7 L695.1,574.6 L696.4,573.7 L697.7,572.8 L699.0,571.9 L700.4,571.1 L701.7,570.4 L703.0,569.7 L704.3,569.0 L705.6,568.4 L707.0,567.9 L708.3,567.4 L709.6,566.9 L710.9,566.4 L712.3,566.0 L713.6,565.7 L714.9,565.3 L716.2,565.1 L717.5,564.8 L718.9,564.6 L720.2,564.5 L721.5,564.4 L722.8,564.4 L724.2,564.4 L725.5,564.5 L726.8,564.7 L728.1,564.9 L729.4,565.2 L730.8,565.6 L732.1,566.0 L733.4,566.6 L734.7,567.2 L736.1,567.9 L737.4,568.7 L738.7,569.6 L740.0,570.6 L741.3,571.7 L742.7,572.9 L744.0,574.2 L745.3,575.7 L746.6,577.2 L748.0,578.8 L749.3,580.6 L750.6,582.5 L751.9,584.5 L753.2,586.7 L754.6,588.9 L755.9,591.3 L757.2,593.9 L758.5,596.6 L759.9,599.4 L761.2,602.4 L762.5,605.5 L763.8,608.8 L765.1,612.2 L766.5,615.8 L767.8,619.6 L769.1,623.5 L770.4,627.5 L771.8,631.6 L773.1,635.9 L774.4,640.3 L775.7,644.9 L777.0,649.6 L778.4,654.3 L779.7,659.2 L781.0,664.3 L782.3,669.4 L783.7,674.6 L785.0,679.9 L786.3,685.3 L787.6,690.8 L788.9,696.4 L790.3,702.1 L791.6,707.9 L792.9,713.7 L794.2,719.6 L795.6,725.6 L796.9,731.7 L798.2,737.8 L799.5,744.0 L800.8,750.2 L802.2,756.5 L803.5,762.8 L804.8,769.2 L806.1,775.6 L807.5,782.1 L808.8,788.6 L810.1,795.2 L811.4,801.8 L812.7,808.5 L814.1,815.2 L815.4,822.0 L816.7,828.9 L818.0,835.7 L819.4,842.7 L820.7,849.7 L822.0,856.8 L823.3,863.9 L824.6,871.1 L826.0,878.3 L827.3,885.6 L828.6,893.0 L829.9,900.4 L831.3,907.9 L832.6,915.4 L833.9,923.0 L835.2,930.7 L836.5,938.4 L837.9,946.2 L839.2,954.1 L840.5,962.0 L841.8,970.0 L843.2,978.1 L844.5,986.2 L845.8,994.4 L847.1,1002.7 L848.4,1011.0 L849.8,1019.4 L851.1,1027.9 L852.4,1036.4 L853.7,1045.0 L855.0,1053.7 L856.4,1062.5 L857.7,1071.4 L859.0,1080.3 L860.3,1089.3 L861.7,1098.3 L863.0,1107.5 L864.3,1116.7 L865.6,1125.9 L866.9,1135.2 L868.3,1144.5 L869.6,1153.9 L870.9,1163.3 L872.2,1172.7 L873.6,1182.1 L874.9,1191.5 L876.2,1201.0 L877.5,1210.4 L878.8,1219.8 L880.2,1229.2 L881.5,1238.5 L882.8,1247.9 L884.1,1257.1 L885.5,1266.3 L886.8,1275.3 L888.1,1284.2 L889.4,1292.9 L890.7,1301.5 L892.1,1309.7 L893.4,1317.8 L894.7,1325.5 L896.0,1332.9 L897.4,1340.0 L898.7,1346.8 L900.0,1353.2 L901.3,1359.4 L902.6,1365.2 L904.0,1370.8 L905.3,1376.1 L906.6,1381.1 L907.9,1385.8 L909.3,1390.3 L910.6,1394.5 L911.9,1398.5 L913.2,1402.2 L914.5,1405.7 L915.9,1409.0 L917.2,1412.1 L918.5,1415.0 L919.8,1417.6 L921.2,1420.1 L922.5,1422.4 L923.8,1424.5 L925.1,1426.5 L926.4,1428.2 L927.8,1429.8 L929.1,1431.3 L930.4,1432.6 L931.7,1433.8 L933.1,1434.9 L934.4,1435.8 L935.7,1436.7 L937.0,1437.4 L938.3,1438.0 L939.7,1438.6 L941.0,1439.0 L942.3,1439.4 L943.6,1439.7 L945.0,1440.0 L946.3,1440.2 L947.6,1440.3 L948.9,1440.4 L950.2,1440.4 L951.6,1440.4 L952.9,1440.3 L954.2,1440.2 L955.5,1440.0 L956.9,1439.7 L958.2,1439.5 L959.5,1439.1 L960.8,1438.7 L962.1,1438.3 L963.5,1437.9 L964.8,1437.3 L966.1,1436.8 L967.4,1436.2 L968.8,1435.6 L970.1,1434.9 L971.4,1434.2 L972.7,1433.5 L974.0,1432.7 L975.4,1431.9 L976.7,1431.1 L978.0,1430.2 L979.3,1429.3 L980.7,1428.4 L982.0,1427.5 L983.3,1426.5 L984.6,1425.5 L985.9,1424.5 L987.3,1423.5 L988.6,1422.5 L989.9,1421.4 L991.2,1420.3 L992.6,1419.2 L993.9,1418.1 L995.2,1417.0 L996.5,1415.9 L997.8,1414.8 L999.2,1413.6 L1000.5,1412.5 L1001.8,1411.3 L1003.1,1410.1 L1004.5,1409.0 L1005.8,1407.8 L1007.1,1406.6 L1008.4,1405.5 L1009.7,1404.3 L1011.1,1403.1 L1012.4,1402.0 L1013.7,1400.8 L1015.0,1399.7 L1016.3,1398.6 L1017.7,1397.4 L1019.0,1396.3 L1020.3,1395.2 L1021.6,1394.1 L1023.0,1393.0 L1024.3,1391.9 L1025.6,1390.8 L1026.9,1389.7 L1028.2,1388.6 L1029.6,1387.5 L1030.9,1386.4 L1032.2,1385.3 L1033.5,1384.1 L1034.9,1383.0 L1036.2,1381.8 L1037.5,1380.6 L1038.8,1379.4 L1040.1,1378.1 L1041.5,1376.9 L1042.8,1375.6 L1044.1,1374.2 L1045.4,1372.9 L1046.8,1371.5 L1048.1,1370.0 L1049.4,1368.5 L1050.7,1367.0 L1052.0,1365.4 L1053.4,1363.8 L1054.7,1362.2 L1056.0,1360.4 L1057.3,1358.7 L1058.7,1356.8 L1060.0,1355.0 L1061.3,1353.0 L1062.6,1351.0 L1063.9,1348.9 L1065.3,1346.8 L1066.6,1344.6 L1067.9,1342.3 L1069.2,1340.0 L1070.6,1337.5 L1071.9,1335.0 L1073.2,1332.4 L1074.5,1329.8 L1075.8,1327.0 L1077.2,1324.2 L1078.5,1321.3 L1079.8,1318.3 L1081.1,1315.3 L1082.5,1312.2 L1083.8,1309.0 L1085.1,1305.7 L1086.4,1302.4 L1087.7,1299.0 L1089.1,1295.6 L1090.4,1292.1 L1091.7,1288.6 L1093.0,1285.0 L1094.4,1281.3 L1095.7,1277.6 L1097.0,1273.9 L1098.3,1270.1 L1099.6,1266.3 L1101.0,1262.4 L1102.3,1258.5 L1103.6,1254.5 L1104.9,1250.6 L1106.3,1246.5 L1107.6,1242.5 L1108.9,1238.4 L1110.2,1234.3 L1111.5,1230.2 L1112.9,1226.0 L1114.2,1221.9 L1115.5,1217.7 L1116.8,1213.5 L1118.2,1209.2 L1119.5,1205.0 L1120.8,1200.8 L1122.1,1196.5 L1123.4,1192.3 L1124.8,1188.0 L1126.1,1183.7 L1127.4,1179.5 L1128.7,1175.2 L1130.1,1170.9 L1131.4,1166.7 L1132.7,1162.4 L1134.0,1158.2 L1135.3,1154.0 L1136.7,1149.8 L1138.0,1145.6 L1139.3,1141.4 L1140.6,1137.3 L1142.0,1133.1 L1143.3,1129.0 L1144.6,1124.9 L1145.9,1120.9 L1147.2,1116.8 L1148.6,1112.8 L1149.9,1108.9 L1151.2,1104.9 L1152.5,1101.0 L1153.9,1097.0 L1155.2,1093.1 L1156.5,1089.1 L1157.8,1085.1 L1159.1,1081.0 L1160.5,1076.9 L1161.8,1072.8 L1163.1,1068.5 L1164.4,1064.2 L1165.7,1059.8 L1167.1,1055.3 L1168.4,1050.8 L1169.7,1046.1 L1171.0,1041.2 L1172.4,1036.3 L1173.7,1031.2 L1175.0,1025.9 L1176.3,1020.5 L1177.6,1015.1 L1179.0,1009.5 L1180.3,1003.9 L1181.6,998.2 L1182.9,992.5 L1184.3,986.8 L1185.6,981.1 L1186.9,975.5 L1188.2,969.9 L1189.5,964.4 L1190.9,959.0 L1192.2,953.7 L1193.5,948.5 L1194.8,943.5 L1196.2,938.7 L1197.5,934.1 L1198.8,929.7 L1200.1,925.5 L1201.4,921.5 L1202.8,917.8 L1204.1,914.2 L1205.4,910.7 L1206.7,907.3 L1208.1,904.1 L1209.4,900.9 L1210.7,897.7 L1212.0,894.6 L1213.3,891.4 L1214.7,888.3 L1216.0,885.0 L1217.3,881.7 L1218.6,878.2 L1220.0,874.7 L1221.3,870.9 L1222.6,867.0 L1223.9,862.9 L1225.2,858.7 L1226.6,854.2 L1227.9,849.7 L1229.2,845.0 L1230.5,840.2 L1231.9,835.3 L1233.2,830.3 L1234.5,825.2 L1235.8,820.0 L1237.1,814.8 L1238.5,809.5 L1239.8,804.2 L1241.1,798.9 L1242.4,793.6 L1243.8,788.3 L1245.1,783.0 L1246.4,777.7 L1247.7,772.5 L1249.0,767.3 L1250.4,762.2 L1251.7,757.1 L1253.0,752.2 L1254.3,747.3 L1255.7,742.5 L1257.0,737.8 L1258.3,733.2 L1259.6,728.6 L1260.9,724.1 L1262.3,719.7 L1263.6,715.4 L1264.9,711.2 L1266.2,707.0 L1267.6,702.9 L1268.9,698.9 L1270.2,695.0 L1271.5,691.1 L1272.8,687.3 L1274.2,683.5 L1275.5,679.9 L1276.8,676.3 L1278.1,672.7 L1279.5,669.3 L1280.8,665.9 L1282.1,662.5 L1283.4,659.3 L1284.7,656.1 L1286.1,652.9 L1287.4,649.8 L1288.7,646.8 L1290.0,643.9 L1291.4,641.0 L1292.7,638.2 L1294.0,635.4 L1295.3,632.7 L1296.6,630.0 L1298.0,627.4 L1299.3,624.9 L1300.6,622.5 L1301.9,620.0 L1303.3,617.7 L1304.6,615.4 L1305.9,613.2 L1307.2,611.0 L1308.5,608.9 L1309.9,606.8 L1311.2,604.8 L1312.5,602.9 L1313.8,601.0 L1315.1,599.2 L1316.5,597.4 L1317.8,595.7 L1319.1,594.0 L1320.4,592.4 L1321.8,590.8 L1323.1,589.3 L1324.4,587.8 L1325.7,586.4 L1327.0,585.1 L1328.4,583.8 L1329.7,582.5 L1331.0,581.3 L1332.3,580.2 L1333.7,579.1 L1335.0,578.1 L1336.3,577.1 L1337.6,576.1 L1338.9,575.2 L1340.3,574.4 L1341.6,573.5 L1342.9,572.8 L1344.2,572.1 L1345.6,571.4 L1346.9,570.8 L1348.2,570.2 L1349.5,569.7 L1350.8,569.2 L1352.2,568.8 L1353.5,568.4 L1354.8,568.1 L1356.1,567.8 L1357.5,567.5 L1358.8,567.4 L1360.1,567.2 L1361.4,567.2 L1362.7,567.2 L1364.1,567.3 L1365.4,567.4 L1366.7,567.7 L1368.0,568.0 L1369.4,568.4 L1370.7,568.9 L1372.0,569.4 L1373.3,570.1 L1374.6,570.9 L1376.0,571.7 L1377.3,572.7 L1378.6,573.7 L1379.9,574.9 L1381.3,576.2 L1382.6,577.6 L1383.9,579.1 L1385.2,580.7 L1386.5,582.5 L1387.9,584.4 L1389.2,586.4 L1390.5,588.6 L1391.8,590.8 L1393.2,593.3 L1394.5,595.9 L1395.8,598.6 L1397.1,601.4 L1398.4,604.5 L1399.8,607.6 L1401.1,611.0 L1402.4,614.5 L1403.7,618.1 L1405.1,621.9 L1406.4,625.9 L1407.7,630.0 L1409.0,634.3 L1410.3,638.7 L1411.7,643.2 L1413.0,647.9 L1414.3,652.7 L1415.6,657.6 L1417.0,662.7 L1418.3,667.9 L1419.6,673.3 L1420.9,678.7 L1422.2,684.3 L1423.6,690.0 L1424.9,695.8 L1426.2,701.8 L1427.5,707.8 L1428.9,713.9 L1430.2,720.2 L1431.5,726.6 L1432.8,733.0 L1434.1,739.6 L1435.5,746.2 L1436.8,753.0 L1438.1,759.8 L1439.4,766.7 L1440.8,773.8 L1442.1,780.8 L1443.4,788.0 L1444.7,795.3 L1446.0,802.6 L1447.4,810.0 L1448.7,817.5 L1450.0,825.0 L1451.3,832.6 L1452.7,840.3 L1454.0,848.0 L1455.3,855.8 L1456.6,863.7 L1457.9,871.6 L1459.3,879.5 L1460.6,887.5 L1461.9,895.6 L1463.2,903.7 L1464.5,911.9 L1465.9,920.1 L1467.2,928.4 L1468.5,936.8 L1469.8,945.2 L1471.2,953.7 L1472.5,962.2 L1473.8,970.8 L1475.1,979.4 L1476.4,988.1 L1477.8,996.8 L1479.1,1005.6 L1480.4,1014.5 L1481.7,1023.4 L1483.1,1032.4 L1484.4,1041.4 L1485.7,1050.5 L1487.0,1059.6 L1488.3,1068.8 L1489.7,1078.1 L1491.0,1087.4 L1492.3,1096.7 L1493.6,1106.2 L1495.0,1115.6 L1496.3,1125.2 L1497.6,1134.7 L1498.9,1144.4 L1500.2,1154.1 L1501.6,1163.8 L1502.9,1173.7 L1504.2,1183.5 L1505.5,1193.3 L1506.9,1203.0 L1508.2,1212.7 L1509.5,1222.3 L1510.8,1231.7 L1512.1,1241.0 L1513.5,1250.0 L1514.8,1258.9 L1516.1,1267.4 L1517.4,1275.7 L1518.8,1283.6 L1520.1,1291.3 L1521.4,1298.7 L1522.7,1305.8 L1524.0,1312.7 L1525.4,1319.2 L1526.7,1325.6 L1528.0,1331.6 L1529.3,1337.5 L1530.7,1343.1 L1532.0,1348.4 L1533.3,1353.5 L1534.6,1358.4 L1535.9,1363.1 L1537.3,1367.6 L1538.6,1371.9 L1539.9,1376.0 L1541.2,1379.9 L1542.6,1383.6 L1543.9,1387.1 L1545.2,1390.4 L1546.5,1393.6 L1547.8,1396.7 L1549.2,1399.5 L1550.5,1402.3 L1551.8,1404.8 L1553.1,1407.3 L1554.5,1409.6 L1555.8,1411.8 L1557.1,1413.9 L1558.4,1415.8 L1559.7,1417.7 L1561.1,1419.5 L1562.4,1421.1 L1563.7,1422.7 L1565.0,1424.2 L1566.4,1425.6 L1567.7,1427.0 L1569.0,1428.3 L1570.3,1429.5 L1571.6,1430.6 L1573.0,1431.7 L1574.3,1432.7 L1575.6,1433.7 L1576.9,1434.5 L1578.3,1435.4 L1579.6,1436.1 L1580.9,1436.8 L1582.2,1437.4 L1583.5,1438.0 L1584.9,1438.5 L1586.2,1438.9 L1587.5,1439.3 L1588.8,1439.7 L1590.2,1439.9 L1591.5,1440.1 L1592.8,1440.3 L1594.1,1440.3 L1595.4,1440.4 L1596.8,1440.3 L1598.1,1440.3 L1599.4,1440.1 L1600.7,1439.9 L1602.1,1439.7 L1603.4,1439.4 L1604.7,1439.1 L1606.0,1438.7 L1607.3,1438.2 L1608.7,1437.7 L1610.0,1437.2 L1611.3,1436.7 L1612.6,1436.0 L1613.9,1435.4 L1615.3,1434.7 L1616.6,1434.0 L1617.9,1433.2 L1619.2,1432.5 L1620.6,1431.6 L1621.9,1430.8 L1623.2,1429.9 L1624.5,1429.0 L1625.8,1428.1 L1627.2,1427.1 L1628.5,1426.1 L1629.8,1425.1 L1631.1,1424.1 L1632.5,1423.0 L1633.8,1421.9 L1635.1,1420.9 L1636.4,1419.7 L1637.7,1418.6 L1639.1,1417.5 L1640.4,1416.4 L1641.7,1415.2 L1643.0,1414.0 L1644.4,1412.9 L1645.7,1411.7 L1647.0,1410.5 L1648.3,1409.3 L1649.6,1408.1 L1651.0,1407.0 L1652.3,1405.8 L1653.6,1404.6 L1654.9,1403.4 L1656.3,1402.2 L1657.6,1401.0 L1658.9,1399.9 L1660.2,1398.7 L1661.5,1397.6 L1662.9,1396.4 L1664.2,1395.3 L1665.5,1394.2 L1666.8,1393.1 L1668.2,1392.1 L1669.5,1391.0 L1670.8,1390.0 L1672.1,1388.9 L1673.4,1387.9 L1674.8,1387.0 L1676.1,1386.0 L1677.4,1385.1 L1678.7,1384.2 L1680.1,1383.3 L1681.4,1382.3 L1682.7,1381.4 L1684.0,1380.4 L1685.3,1379.4 L1686.7,1378.4 L1688.0,1377.3 L1689.3,1376.1 L1690.6,1374.9 L1692.0,1373.6 L1693.3,1372.2 L1694.6,1370.7 L1695.9,1369.1 L1697.2,1367.4 L1698.6,1365.6 L1699.9,1363.7 L1701.2,1361.6 L1702.5,1359.5 L1703.9,1357.2 L1705.2,1354.8 L1706.5,1352.3 L1707.8,1349.7 L1709.1,1347.0 L1710.5,1344.2 L1711.8,1341.3 L1713.1,1338.2 L1714.4,1335.1 L1715.8,1331.9 L1717.1,1328.7 L1718.4,1325.3 L1719.7,1321.9 L1721.0,1318.3 L1722.4,1314.7 L1723.7,1311.0 L1725.0,1307.3 L1726.3,1303.5 L1727.7,1299.6 L1729.0,1295.6 L1730.3,1291.6 L1731.6,1287.5 L1732.9,1283.4 L1734.3,1279.2 L1735.6,1274.9 L1736.9,1270.7 L1738.2,1266.3 L1739.6,1261.9 L1740.9,1257.5 L1742.2,1253.0 L1743.5,1248.5 L1744.8,1244.0 L1746.2,1239.4 L1747.5,1234.8 L1748.8,1230.1 L1750.1,1225.4 L1751.5,1220.7 L1752.8,1216.0 L1754.1,1211.2 L1755.4,1206.4 L1756.7,1201.6 L1758.1,1196.8 L1759.4,1191.9 L1760.7,1187.1 L1762.0,1182.2 L1763.3,1177.3 L1764.7,1172.4 L1766.0,1167.5 L1767.3,1162.6 L1768.6,1157.7 L1770.0,1152.8 L1771.3,1147.9 L1772.6,1142.9 L1773.9,1138.0 L1775.2,1133.1 L1776.6,1128.2 L1777.9,1123.3 L1779.2,1118.5 L1780.5,1113.6 L1781.9,1108.8 L1783.2,1103.9 L1784.5,1099.1 L1785.8,1094.3 L1787.1,1089.6 L1788.5,1084.8 L1789.8,1080.1 L1791.1,1075.4 L1792.4,1070.7 L1793.8,1066.0 L1795.1,1061.3 L1796.4,1056.6 L1797.7,1052.0 L1799.0,1047.3 L1800.4,1042.7 L1801.7,1038.1 L1803.0,1033.5 L1804.3,1028.9 L1805.7,1024.3 L1807.0,1019.7 L1808.3,1015.1 L1809.6,1010.5 L1810.9,1005.9 L1812.3,1001.3 L1813.6,996.7 L1814.9,992.0 L1816.2,987.4 L1817.6,982.8 L1818.9,978.2 L1820.2,973.5 L1821.5,968.9 L1822.8,964.2 L1824.2,959.6 L1825.5,954.9 L1826.8,950.2 L1828.1,945.5 L1829.5,940.8 L1830.8,936.0 L1832.1,931.3 L1833.4,926.5 L1834.7,921.8 L1836.1,917.0 L1837.4,912.2 L1838.7,907.5 L1840.0,902.7 L1841.4,897.9 L1842.7,893.1 L1844.0,888.4 L1845.3,883.6 L1846.6,878.8 L1848.0,874.0 L1849.3,869.3 L1850.6,864.5 L1851.9,859.7 L1853.3,855.0 L1854.6,850.3 L1855.9,845.5 L1857.2,840.8 L1858.5,836.1 L1859.9,831.4 L1861.2,826.7 L1862.5,822.0 L1863.8,817.4 L1865.2,812.7 L1866.5,808.1 L1867.8,803.5 L1869.1,798.9 L1870.4,794.4 L1871.8,789.8 L1873.1,785.3 L1874.4,780.8 L1875.7,776.4 L1877.1,771.9 L1878.4,767.5 L1879.7,763.1 L1881.0,758.8 L1882.3,754.4 L1883.7,750.2 L1885.0,745.9 L1886.3,741.7 L1887.6,737.5 L1889.0,733.3 L1890.3,729.2 L1891.6,725.1 L1892.9,721.1 L1894.2,717.0 L1895.6,713.1 L1896.9,709.2 L1898.2,705.3 L1899.5,701.4 L1900.9,697.6 L1902.2,693.9 L1903.5,690.2 L1904.8,686.5 L1906.1,682.9 L1907.5,679.4 L1908.8,675.9 L1910.1,672.4 L1911.4,669.0 L1912.8,665.7 L1914.1,662.4 L1915.4,659.2 L1916.7,656.0 L1918.0,652.9 L1919.4,649.8 L1920.7,646.8 L1922.0,643.9 L1923.3,641.0 L1924.6,638.1 L1926.0,635.3 L1927.3,632.6 L1928.6,629.9 L1929.9,627.3 L1931.3,624.8 L1932.6,622.3 L1933.9,619.8 L1935.2,617.4 L1936.5,615.1 L1937.9,612.8 L1939.2,610.6 L1940.5,608.5 L1941.8,606.4 L1943.2,604.4 L1944.5,602.4 L1945.8,600.5 L1947.1,598.6 L1948.4,596.8 L1949.8,595.1 L1951.1,593.4 L1952.4,591.8 L1953.7,590.2 L1955.1,588.7 L1956.4,587.2 L1957.7,585.9 L1959.0,584.5 L1960.3,583.3 L1961.7,582.1 L1963.0,580.9 L1964.3,579.8 L1965.6,578.8 L1967.0,577.9 L1968.3,577.0 L1969.6,576.1 L1970.9,575.3 L1972.2,574.6 L1973.6,574.0 L1974.9,573.4 L1976.2,572.9 L1977.5,572.4 L1978.9,572.0 L1980.2,571.6 L1981.5,571.4 L1982.8,571.1 L1984.1,571.0 L1985.5,570.9 L1986.8,570.9 L1988.1,570.9 L1989.4,571.1 L1990.8,571.3 L1992.1,571.5 L1993.4,571.9 L1994.7,572.3 L1996.0,572.8 L1997.4,573.3 L1998.7,574.0 L2000.0,574.7 L2001.3,575.5 L2002.7,576.4 L2004.0,577.3 L2005.3,578.4 L2006.6,579.5 L2007.9,580.7 L2009.3,582.0 L2010.6,583.4 L2011.9,584.9 L2013.2,586.4 L2014.6,588.1 L2015.9,589.9 L2017.2,591.7 L2018.5,593.6 L2019.8,595.7 L2021.2,597.8 L2022.5,600.0 L2023.8,602.3 L2025.1,604.8 L2026.5,607.3 L2027.8,609.9 L2029.1,612.6 L2030.4,615.5 L2031.7,618.4 L2033.1,621.5 L2034.4,624.6 L2035.7,627.9 L2037.0,631.2 L2038.4,634.7 L2039.7,638.3 L2041.0,642.0 L2042.3,645.9 L2043.6,649.8 L2045.0,653.8 L2046.3,658.0 L2047.6,662.3 L2048.9,666.7 L2050.3,671.2 L2051.6,675.9 L2052.9,680.7 L2054.2,685.6 L2055.5,690.6 L2056.9,695.7 L2058.2,701.0 L2059.5,706.4 L2060.8,712.0 L2062.2,717.6 L2063.5,723.4 L2064.8,729.3 L2066.1,735.4 L2067.4,741.6 L2068.8,748.0 L2070.1,754.4 L2071.4,761.0 L2072.7,767.8 L2074.0,774.7 L2075.4,781.7 L2076.7,788.8 L2078.0,796.1 L2079.3,803.5 L2080.7,811.0 L2082.0,818.6 L2083.3,826.3 L2084.6,834.0 L2085.9,841.9 L2087.3,849.9 L2088.6,858.0 L2089.9,866.1 L2091.2,874.3 L2092.6,882.6 L2093.9,890.9 L2095.2,899.3 L2096.5,907.7 L2097.8,916.2 L2099.2,924.8 L2100.5,933.3 L2101.8,941.9 L2103.1,950.6 L2104.5,959.3 L2105.8,967.9 L2107.1,976.6 L2108.4,985.3 L2109.7,994.1 L2111.1,1002.8 L2112.4,1011.5 L2113.7,1020.2 L2115.0,1028.9 L2116.4,1037.5 L2117.7,1046.2 L2119.0,1054.8 L2120.3,1063.4 L2121.6,1071.9 L2123.0,1080.4 L2124.3,1088.9 L2125.6,1097.3 L2126.9,1105.6 L2128.3,1113.9 L2129.6,1122.1 L2130.9,1130.3 L2132.2,1138.3 L2133.5,1146.3 L2134.9,1154.3 L2136.2,1162.1 L2137.5,1169.9 L2138.8,1177.6 L2140.2,1185.2 L2141.5,1192.8 L2142.8,1200.3 L2144.1,1207.7 L2145.4,1215.0 L2146.8,1222.3 L2148.1,1229.5 L2149.4,1236.7 L2150.7,1243.7 L2152.1,1250.7 L2153.4,1257.7 L2154.7,1264.5 L2156.0,1271.3 L2157.3,1278.0 L2158.7,1284.6 L2160.0,1291.1 L2161.3,1297.5 L2162.6,1303.7 L2164.0,1309.9 L2165.3,1316.0 L2166.6,1321.9 L2167.9,1327.7 L2169.2,1333.4 L2170.6,1339.0 L2171.9,1344.4 L2173.2,1349.6 L2174.5,1354.7 L2175.9,1359.7 L2177.2,1364.5 L2178.5,1369.1 L2179.8,1373.5 L2181.1,1377.8 L2182.5,1381.9 L2183.8,1385.8 L2185.1,1389.6 L2186.4,1393.1 L2187.8,1396.4 L2189.1,1399.5 L2190.4,1402.5 L2191.7,1405.2 L2193.0,1407.6 L2194.4,1409.9 L2195.7,1411.9 L2197.0,1413.7 L2198.3,1415.3 L2199.7,1416.6 L2201.0,1417.7 L2202.3,1418.7 L2203.6,1419.4 L2204.9,1420.0 L2206.3,1420.5 L2207.6,1420.8 L2208.9,1421.0 L2210.2,1421.2 L2211.6,1421.2 L2212.9,1421.2 L2214.2,1421.2 L2215.5,1421.2 L2216.8,1421.1 L2218.2,1421.1 L2219.5,1421.1 L2220.8,1421.1 L2222.1,1421.2 L2223.4,1421.4 L2224.8,1421.7 L2226.1,1422.1 L2227.4,1422.6 L2228.7,1423.3 L2230.1,1424.1" fill="none" stroke="#00ff00" stroke-width="10" stroke-linejoin="round" stroke-linecap="round"/>
<polygon points="326.2,1404.0 309.2,1434.0 343.2,1434.0" fill="#00ff00"/><polygon points="405.5,1319.2 388.5,1349.2 422.5,1349.2" fill="#00ff00"/><polygon points="484.9,1175.0 467.9,1205.0 501.9,1205.0" fill="#00ff00"/><polygon points="564.2,908.1 547.2,938.1 581.2,938.1" fill="#00ff00"/><polygon points="643.5,646.8 626.5,676.8 660.5,676.8" fill="#00ff00"/><polygon points="722.8,544.4 705.8,574.4 739.8,574.4" fill="#00ff00"/><polygon points="802.2,736.5 785.2,766.5 819.2,766.5" fill="#00ff00"/><polygon points="881.5,1218.5 864.5,1248.5 898.5,1248.5" fill="#00ff00"/><polygon points="960.8,1418.7 943.8,1448.7 977.8,1448.7" fill="#00ff00"/><polygon points="1040.1,1358.1 1023.1,1388.1 1057.1,1388.1" fill="#00ff00"/><polygon points="1119.5,1185.0 1102.5,1215.0 1136.5,1215.0" fill="#00ff00"/><polygon points="1198.8,909.7 1181.8,939.7 1215.8,939.7" fill="#00ff00"/><polygon points="1278.1,652.7 1261.1,682.7 1295.1,682.7" fill="#00ff00"/><polygon points="1357.5,547.5 1340.5,577.5 1374.5,577.5" fill="#00ff00"/><polygon points="1436.8,733.0 1419.8,763.0 1453.8,763.0" fill="#00ff00"/><polygon points="1516.1,1247.4 1499.1,1277.4 1533.1,1277.4" fill="#00ff00"/><polygon points="1595.4,1420.4 1578.4,1450.4 1612.4,1450.4" fill="#00ff00"/><polygon points="1674.8,1367.0 1657.8,1397.0 1691.8,1397.0" fill="#00ff00"/><polygon points="1754.1,1191.2 1737.1,1221.2 1771.1,1221.2" fill="#00ff00"/><polygon points="1833.4,906.5 1816.4,936.5 1850.4,936.5" fill="#00ff00"/><polygon points="1912.8,645.7 1895.8,675.7 1929.8,675.7" fill="#00ff00"/><polygon points="1992.1,551.5 1975.1,581.5 2009.1,581.5" fill="#00ff00"/><polygon points="2071.4,741.0 2054.4,771.0 2088.4,771.0" fill="#00ff00"/><polygon points="2150.7,1223.7 2133.7,1253.7 2167.7,1253.7" fill="#00ff00"/><polygon points="2230.1,1404.1 2213.1,1434.1 2247.1,1434.1" fill="#00ff00"/>
<path d="M326.2,614.3 L327.5,618.3 L328.8,622.3 L330.2,626.3 L331.5,630.3 L332.8,634.3 L334.1,638.3 L335.5,642.2 L336.8,646.2 L338.1,650.1 L339.4,654.1 L340.7,658.0 L342.1,661.9 L343.4,665.8 L344.7,669.7 L346.0,673.6 L347.4,677.4 L348.7,681.3 L350.0,685.1 L351.3,688.8 L352.6,692.6 L354.0,696.3 L355.3,700.0 L356.6,703.7 L357.9,707.4 L359.3,711.0 L360.6,714.6 L361.9,718.1 L363.2,721.6 L364.5,725.1 L365.9,728.6 L367.2,732.0 L368.5,735.4 L369.8,738.7 L371.2,742.0 L372.5,745.2 L373.8,748.4 L375.1,751.5 L376.4,754.6 L377.8,757.7 L379.1,760.7 L380.4,763.7 L381.7,766.6 L383.1,769.4 L384.4,772.2 L385.7,774.9 L387.0,777.6 L388.3,780.2 L389.7,782.8 L391.0,785.2 L392.3,787.7 L393.6,790.0 L395.0,792.3 L396.3,794.6 L397.6,796.7 L398.9,798.8 L400.2,800.8 L401.6,802.8 L402.9,804.7 L404.2,806.5 L405.5,808.2 L406.8,809.9 L408.2,811.5 L409.5,813.2 L410.8,814.9 L412.1,816.5 L413.5,818.2 L414.8,819.8 L416.1,821.4 L417.4,823.0 L418.7,824.6 L420.1,826.1 L421.4,827.7 L422.7,829.2 L424.0,830.7 L425.4,832.2 L426.7,833.7 L428.0,835.2 L429.3,836.6 L430.6,838.0 L432.0,839.4 L433.3,840.7 L434.6,842.0 L435.9,843.3 L437.3,844.6 L438.6,845.8 L439.9,847.0 L441.2,848.2 L442.5,849.3 L443.9,850.4 L445.2,851.5 L446.5,852.5 L447.8,853.5 L449.2,854.5 L450.5,855.4 L451.8,856.3 L453.1,857.1 L454.4,857.9 L455.8,858.6 L457.1,859.3 L458.4,860.0 L459.7,860.6 L461.1,861.1 L462.4,861.6 L463.7,862.1 L465.0,862.5 L466.3,862.9 L467.7,863.2 L469.0,863.4 L470.3,863.6 L471.6,863.7 L473.0,863.8 L474.3,863.8 L475.6,863.8 L476.9,863.7 L478.2,863.5 L479.6,863.3 L480.9,863.0 L482.2,862.6 L483.5,862.2 L484.9,861.7 L486.2,861.2 L487.5,860.5 L488.8,859.9 L490.1,859.1 L491.5,858.2 L492.8,857.3 L494.1,856.4 L495.4,855.3 L496.8,854.3 L498.1,853.1 L499.4,851.9 L500.7,850.6 L502.0,849.3 L503.4,847.9 L504.7,846.4 L506.0,844.9 L507.3,843.4 L508.7,841.8 L510.0,840.1 L511.3,838.4 L512.6,836.6 L513.9,834.8 L515.3,832.9 L516.6,831.0 L517.9,829.1 L519.2,827.1 L520.6,825.1 L521.9,823.0 L523.2,820.9 L524.5,818.7 L525.8,816.5 L527.2,814.3 L528.5,812.0 L529.8,809.7 L531.1,807.4 L532.5,805.0 L533.8,802.6 L535.1,800.2 L536.4,797.8 L537.7,795.3 L539.1,792.8 L540.4,790.2 L541.7,787.7 L543.0,785.1 L544.4,782.5 L545.7,779.9 L547.0,777.2 L548.3,774.6 L549.6,771.9 L551.0,769.2 L552.3,766.5 L553.6,763.8 L554.9,761.0 L556.2,758.3 L557.6,755.5 L558.9,752.7 L560.2,750.0 L561.5,747.2 L562.9,744.4 L564.2,741.6 L565.5,738.8 L566.8,735.9 L568.1,732.9 L569.5,729.8 L570.8,726.7 L572.1,723.6 L573.4,720.3 L574.8,717.0 L576.1,713.7 L577.4,710.2 L578.7,706.8 L580.0,703.2 L581.4,699.7 L582.7,696.1 L584.0,692.4 L585.3,688.7 L586.7,685.0 L588.0,681.2 L589.3,677.4 L590.6,673.5 L591.9,669.6 L593.3,665.7 L594.6,661.8 L595.9,657.8 L597.2,653.8 L598.6,649.8 L599.9,645.8 L601.2,641.7 L602.5,637.7 L603.8,633.6 L605.2,629.6 L606.5,625.5 L607.8,621.4 L609.1,617.3 L610.5,613.2 L611.8,609.1 L613.1,605.0 L614.4,601.0 L615.7,596.9 L617.1,592.8 L618.4,588.8 L619.7,584.7 L621.0,580.7 L622.4,576.7 L623.7,572.8 L625.0,568.8 L626.3,564.9 L627.6,561.0 L629.0,557.1 L630.3,553.3 L631.6,549.5 L632.9,545.8 L634.3,542.0 L635.6,538.4 L636.9,534.7 L638.2,531.1 L639.5,527.6 L640.9,524.1 L642.2,520.7 L643.5,517.3 L644.8,513.9 L646.2,510.6 L647.5,507.1 L648.8,503.7 L650.1,500.3 L651.4,496.8 L652.8,493.3 L654.1,489.8 L655.4,486.3 L656.7,482.8 L658.1,479.3 L659.4,475.8 L660.7,472.3 L662.0,468.7 L663.3,465.2 L664.7,461.7 L666.0,458.1 L667.3,454.6 L668.6,451.1 L670.0,447.6 L671.3,444.1 L672.6,440.7 L673.9,437.2 L675.2,433.8 L676.6,430.3 L677.9,426.9 L679.2,423.5 L680.5,420.2 L681.9,416.9 L683.2,413.5 L684.5,410.3 L685.8,407.0 L687.1,403.8 L688.5,400.6 L689.8,397.5 L691.1,394.4 L692.4,391.3 L693.8,388.3 L695.1,385.4 L696.4,382.4 L697.7,379.6 L699.0,376.7 L700.4,374.0 L701.7,371.2 L703.0,368.6 L704.3,366.0 L705.6,363.4 L707.0,360.9 L708.3,358.5 L709.6,356.1 L710.9,353.8 L712.3,351.6 L713.6,349.4 L714.9,347.4 L716.2,345.4 L717.5,343.4 L718.9,341.6 L720.2,339.8 L721.5,338.1 L722.8,336.5 L724.2,334.9 L725.5,333.4 L726.8,331.8 L728.1,330.3 L729.4,328.9 L730.8,327.4 L732.1,326.0 L733.4,324.6 L734.7,323.2 L736.1,321.8 L737.4,320.5 L738.7,319.2 L740.0,317.9 L741.3,316.7 L742.7,315.4 L744.0,314.3 L745.3,313.1 L746.6,312.0 L748.0,310.8 L749.3,309.8 L750.6,308.7 L751.9,307.7 L753.2,306.7 L754.6,305.8 L755.9,304.9 L757.2,304.0 L758.5,303.1 L759.9,302.3 L761.2,301.6 L762.5,300.8 L763.8,300.1 L765.1,299.4 L766.5,298.8 L767.8,298.2 L769.1,297.7 L770.4,297.1 L771.8,296.7 L773.1,296.2 L774.4,295.8 L775.7,295.5 L777.0,295.2 L778.4,294.9 L779.7,294.7 L781.0,294.6 L782.3,294.5 L783.7,294.4 L785.0,294.5 L786.3,294.5 L787.6,294.7 L788.9,294.9 L790.3,295.1 L791.6,295.4 L792.9,295.7 L794.2,296.1 L795.6,296.6 L796.9,297.1 L798.2,297.6 L799.5,298.2 L800.8,298.8 L802.2,299.5 L803.5,300.2 L804.8,301.0 L806.1,301.9 L807.5,302.8 L808.8,303.8 L810.1,304.8 L811.4,305.9 L812.7,307.1 L814.1,308.3 L815.4,309.6 L816.7,310.9 L818.0,312.2 L819.4,313.7 L820.7,315.1 L822.0,316.6 L823.3,318.2 L824.6,319.8 L826.0,321.5 L827.3,323.2 L828.6,324.9 L829.9,326.7 L831.3,328.5 L832.6,330.4 L833.9,332.3 L835.2,334.3 L836.5,336.3 L837.9,338.3 L839.2,340.4 L840.5,342.5 L841.8,344.6 L843.2,346.8 L844.5,349.0 L845.8,351.2 L847.1,353.4 L848.4,355.7 L849.8,358.1 L851.1,360.4 L852.4,362.8 L853.7,365.2 L855.0,367.6 L856.4,370.0 L857.7,372.5 L859.0,375.0 L860.3,377.5 L861.7,380.0 L863.0,382.5 L864.3,385.1 L865.6,387.7 L866.9,390.3 L868.3,392.9 L869.6,395.5 L870.9,398.1 L872.2,400.8 L873.6,403.4 L874.9,406.1 L876.2,408.7 L877.5,411.4 L878.8,414.1 L880.2,416.8 L881.5,419.5 L882.8,422.2 L884.1,425.0 L885.5,427.9 L886.8,430.8 L888.1,433.8 L889.4,436.8 L890.7,439.9 L892.1,443.1 L893.4,446.3 L894.7,449.6 L896.0,452.9 L897.4,456.3 L898.7,459.7 L900.0,463.2 L901.3,466.7 L902.6,470.3 L904.0,473.8 L905.3,477.5 L906.6,481.1 L907.9,484.8 L909.3,488.6 L910.6,492.3 L911.9,496.1 L913.2,499.9 L914.5,503.7 L915.9,507.6 L917.2,511.4 L918.5,515.3 L919.8,519.2 L921.2,523.2 L922.5,527.1 L923.8,531.0 L925.1,535.0 L926.4,538.9 L927.8,542.9 L929.1,546.8 L930.4,550.8 L931.7,554.7 L933.1,558.7 L934.4,562.6 L935.7,566.5 L937.0,570.4 L938.3,574.4 L939.7,578.2 L941.0,582.1 L942.3,586.0 L943.6,589.8 L945.0,593.6 L946.3,597.4 L947.6,601.2 L948.9,604.9 L950.2,608.6 L951.6,612.3 L952.9,615.9 L954.2,619.5 L955.5,623.1 L956.9,626.6 L958.2,630.1 L959.5,633.6 L960.8,636.9 L962.1,640.3 L963.5,643.7 L964.8,647.2 L966.1,650.6 L967.4,654.1 L968.8,657.6 L970.1,661.1 L971.4,664.7 L972.7,668.2 L974.0,671.8 L975.4,675.3 L976.7,678.9 L978.0,682.5 L979.3,686.1 L980.7,689.7 L982.0,693.3 L983.3,696.9 L984.6,700.5 L985.9,704.1 L987.3,707.7 L988.6,711.2 L989.9,714.8 L991.2,718.4 L992.6,721.9 L993.9,725.4 L995.2,728.9 L996.5,732.4 L997.8,735.9 L999.2,739.3 L1000.5,742.8 L1001.8,746.2 L1003.1,749.5 L1004.5,752.9 L1005.8,756.2 L1007.1,759.4 L1008.4,762.7 L1009.7,765.9 L1011.1,769.0 L1012.4,772.1 L1013.7,775.2 L1015.0,778.2 L1016.3,781.2 L1017.7,784.1 L1019.0,787.0 L1020.3,789.8 L1021.6,792.6 L1023.0,795.3 L1024.3,798.0 L1025.6,800.6 L1026.9,803.1 L1028.2,805.6 L1029.6,808.0 L1030.9,810.3 L1032.2,812.6 L1033.5,814.8 L1034.9,816.9 L1036.2,819.0 L1037.5,820.9 L1038.8,822.8 L1040.1,824.6 L1041.5,826.4 L1042.8,828.1 L1044.1,829.8 L1045.4,831.5 L1046.8,833.2 L1048.1,834.8 L1049.4,836.4 L1050.7,838.0 L1052.0,839.5 L1053.4,841.0 L1054.7,842.5 L1056.0,844.0 L1057.3,845.4 L1058.7,846.8 L1060.0,848.1 L1061.3,849.4 L1062.6,850.7 L1063.9,852.0 L1065.3,853.2 L1066.6,854.4 L1067.9,855.5 L1069.2,856.6 L1070.6,857.7 L1071.9,858.7 L1073.2,859.7 L1074.5,860.6 L1075.8,861.5 L1077.2,862.4 L1078.5,863.2 L1079.8,864.0 L1081.1,864.7 L1082.5,865.4 L1083.8,866.0 L1085.1,866.6 L1086.4,867.2 L1087.7,867.7 L1089.1,868.1 L1090.4,868.5 L1091.7,868.9 L1093.0,869.2 L1094.4,869.4 L1095.7,869.6 L1097.0,869.7 L1098.3,869.7 L1099.6,869.7 L1101.0,869.6 L1102.3,869.4 L1103.6,869.2 L1104.9,868.9 L1106.3,868.6 L1107.6,868.2 L1108.9,867.8 L1110.2,867.3 L1111.5,866.7 L1112.9,866.1 L1114.2,865.5 L1115.5,864.8 L1116.8,864.0 L1118.2,863.2 L1119.5,862.4 L1120.8,861.5 L1122.1,860.5 L1123.4,859.5 L1124.8,858.4 L1126.1,857.3 L1127.4,856.1 L1128.7,854.8 L1130.1,853.5 L1131.4,852.1 L1132.7,850.7 L1134.0,849.2 L1135.3,847.7 L1136.7,846.1 L1138.0,844.5 L1139.3,842.8 L1140.6,841.0 L1142.0,839.2 L1143.3,837.4 L1144.6,835.5 L1145.9,833.6 L1147.2,831.6 L1148.6,829.6 L1149.9,827.5 L1151.2,825.4 L1152.5,823.3 L1153.9,821.1 L1155.2,818.8 L1156.5,816.6 L1157.8,814.3 L1159.1,812.0 L1160.5,809.6 L1161.8,807.2 L1163.1,804.8 L1164.4,802.3 L1165.7,799.9 L1167.1,797.3 L1168.4,794.8 L1169.7,792.2 L1171.0,789.6 L1172.4,787.0 L1173.7,784.4 L1175.0,781.7 L1176.3,779.1 L1177.6,776.4 L1179.0,773.6 L1180.3,770.9 L1181.6,768.1 L1182.9,765.4 L1184.3,762.6 L1185.6,759.8 L1186.9,757.0 L1188.2,754.2 L1189.5,751.3 L1190.9,748.5 L1192.2,745.7 L1193.5,742.8 L1194.8,740.0 L1196.2,737.1 L1197.5,734.2 L1198.8,731.4 L1200.1,728.4 L1201.4,725.5 L1202.8,722.4 L1204.1,719.3 L1205.4,716.1 L1206.7,712.8 L1208.1,709.5 L1209.4,706.1 L1210.7,702.6 L1212.0,699.1 L1213.3,695.5 L1214.7,691.9 L1216.0,688.2 L1217.3,684.5 L1218.6,680.7 L1220.0,676.9 L1221.3,673.1 L1222.6,669.2 L1223.9,665.3 L1225.2,661.3 L1226.6,657.3 L1227.9,653.3 L1229.2,649.2 L1230.5,645.2 L1231.9,641.1 L1233.2,637.0 L1234.5,632.8 L1235.8,628.7 L1237.1,624.5 L1238.5,620.4 L1239.8,616.2 L1241.1,612.0 L1242.4,607.8 L1243.8,603.7 L1245.1,599.5 L1246.4,595.3 L1247.7,591.1 L1249.0,587.0 L1250.4,582.8 L1251.7,578.7 L1253.0,574.6 L1254.3,570.5 L1255.7,566.4 L1257.0,562.3 L1258.3,558.3 L1259.6,554.3 L1260.9,550.4 L1262.3,546.4 L1263.6,542.5 L1264.9,538.7 L1266.2,534.8 L1267.6,531.1 L1268.9,527.3 L1270.2,523.6 L1271.5,520.0 L1272.8,516.4 L1274.2,512.9 L1275.5,509.4 L1276.8,506.0 L1278.1,502.7 L1279.5,499.3 L1280.8,496.0 L1282.1,492.6 L1283.4,489.2 L1284.7,485.8 L1286.1,482.4 L1287.4,479.0 L1288.7,475.6 L1290.0,472.1 L1291.4,468.7 L1292.7,465.2 L1294.0,461.8 L1295.3,458.3 L1296.6,454.9 L1298.0,451.4 L1299.3,448.0 L1300.6,444.5 L1301.9,441.1 L1303.3,437.7 L1304.6,434.3 L1305.9,430.9 L1307.2,427.5 L1308.5,424.2 L1309.9,420.8 L1311.2,417.5 L1312.5,414.2 L1313.8,410.9 L1315.1,407.7 L1316.5,404.5 L1317.8,401.3 L1319.1,398.1 L1320.4,395.0 L1321.8,391.9 L1323.1,388.9 L1324.4,385.9 L1325.7,382.9 L1327.0,380.0 L1328.4,377.1 L1329.7,374.3 L1331.0,371.5 L1332.3,368.7 L1333.7,366.0 L1335.0,363.4 L1336.3,360.8 L1337.6,358.3 L1338.9,355.8 L1340.3,353.4 L1341.6,351.1 L1342.9,348.8 L1344.2,346.6 L1345.6,344.5 L1346.9,342.4 L1348.2,340.4 L1349.5,338.5 L1350.8,336.6 L1352.2,334.8 L1353.5,333.1 L1354.8,331.5 L1356.1,329.9 L1357.5,328.5 L1358.8,327.1 L1360.1,325.7 L1361.4,324.3 L1362.7,323.0 L1364.1,321.6 L1365.4,320.3 L1366.7,319.0 L1368.0,317.8 L1369.4,316.5 L1370.7,315.3 L1372.0,314.1 L1373.3,313.0 L1374.6,311.8 L1376.0,310.7 L1377.3,309.6 L1378.6,308.6 L1379.9,307.5 L1381.3,306.5 L1382.6,305.6 L1383.9,304.6 L1385.2,303.7 L1386.5,302.8 L1387.9,302.0 L1389.2,301.2 L1390.5,300.4 L1391.8,299.6 L1393.2,298.9 L1394.5,298.3 L1395.8,297.6 L1397.1,297.0 L1398.4,296.5 L1399.8,295.9 L1401.1,295.5 L1402.4,295.0 L1403.7,294.6 L1405.1,294.3 L1406.4,293.9 L1407.7,293.7 L1409.0,293.4 L1410.3,293.3 L1411.7,293.1 L1413.0,293.1 L1414.3,293.1 L1415.6,293.1 L1417.0,293.2 L1418.3,293.4 L1419.6,293.6 L1420.9,293.9 L1422.2,294.2 L1423.6,294.5 L1424.9,295.0 L1426.2,295.4 L1427.5,296.0 L1428.9,296.5 L1430.2,297.1 L1431.5,297.8 L1432.8,298.5 L1434.1,299.2 L1435.5,300.0 L1436.8,300.8 L1438.1,301.7 L1439.4,302.6 L1440.8,303.6 L1442.1,304.7 L1443.4,305.8 L1444.7,307.0 L1446.0,308.3 L1447.4,309.6 L1448.7,310.9 L1450.0,312.3 L1451.3,313.8 L1452.7,315.4 L1454.0,316.9 L1455.3,318.6 L1456.6,320.3 L1457.9,322.0 L1459.3,323.8 L1460.6,325.6 L1461.9,327.5 L1463.2,329.4 L1464.5,331.4 L1465.9,333.4 L1467.2,335.4 L1468.5,337.5 L1469.8,339.6 L1471.2,341.8 L1472.5,344.0 L1473.8,346.2 L1475.1,348.5 L1476.4,350.8 L1477.8,353.1 L1479.1,355.5 L1480.4,357.9 L1481.7,360.3 L1483.1,362.8 L1484.4,365.3 L1485.7,367.8 L1487.0,370.3 L1488.3,372.8 L1489.7,375.4 L1491.0,378.0 L1492.3,380.6 L1493.6,383.2 L1495.0,385.9 L1496.3,388.5 L1497.6,391.2 L1498.9,393.9 L1500.2,396.6 L1501.6,399.3 L1502.9,402.0 L1504.2,404.8 L1505.5,407.5 L1506.9,410.3 L1508.2,413.0 L1509.5,415.8 L1510.8,418.5 L1512.1,421.3 L1513.5,424.0 L1514.8,426.8 L1516.1,429.6 L1517.4,432.4 L1518.8,435.2 L1520.1,438.1 L1521.4,441.0 L1522.7,444.0 L1524.0,447.1 L1525.4,450.2 L1526.7,453.3 L1528.0,456.5 L1529.3,459.8 L1530.7,463.0 L1532.0,466.4 L1533.3,469.7 L1534.6,473.1 L1535.9,476.5 L1537.3,480.0 L1538.6,483.5 L1539.9,487.0 L1541.2,490.5 L1542.6,494.1 L1543.9,497.7 L1545.2,501.3 L1546.5,505.0 L1547.8,508.6 L1549.2,512.3 L1550.5,516.0 L1551.8,519.7 L1553.1,523.5 L1554.5,527.2 L1555.8,531.0 L1557.1,534.7 L1558.4,538.5 L1559.7,542.3 L1561.1,546.0 L1562.4,549.8 L1563.7,553.6 L1565.0,557.4 L1566.4,561.1 L1567.7,564.9 L1569.0,568.7 L1570.3,572.4 L1571.6,576.2 L1573.0,579.9 L1574.3,583.6 L1575.6,587.4 L1576.9,591.0 L1578.3,594.7 L1579.6,598.4 L1580.9,602.0 L1582.2,605.6 L1583.5,609.2 L1584.9,612.8 L1586.2,616.3 L1587.5,619.8 L1588.8,623.3 L1590.2,626.8 L1591.5,630.2 L1592.8,633.6 L1594.1,636.9 L1595.4,640.2 L1596.8,643.5 L1598.1,646.8 L1599.4,650.2 L1600.7,653.6 L1602.1,657.0 L1603.4,660.4 L1604.7,663.9 L1606.0,667.3 L1607.3,670.8 L1608.7,674.3 L1610.0,677.8 L1611.3,681.4 L1612.6,684.9 L1613.9,688.4 L1615.3,692.0 L1616.6,695.5 L1617.9,699.1 L1619.2,702.6 L1620.6,706.2 L1621.9,709.7 L1623.2,713.3 L1624.5,716.8 L1625.8,720.3 L1627.2,723.8 L1628.5,727.3 L1629.8,730.7 L1631.1,734.2 L1632.5,737.6 L1633.8,741.0 L1635.1,744.4 L1636.4,747.7 L1637.7,751.0 L1639.1,754.3 L1640.4,757.6 L1641.7,760.8 L1643.0,764.0 L1644.4,767.1 L1645.7,770.2 L1647.0,773.3 L1648.3,776.3 L1649.6,779.2 L1651.0,782.1 L1652.3,785.0 L1653.6,787.8 L1654.9,790.5 L1656.3,793.2 L1657.6,795.9 L1658.9,798.4 L1660.2,800.9 L1661.5,803.4 L1662.9,805.7 L1664.2,808.0 L1665.5,810.3 L1666.8,812.4 L1668.2,814.5 L1669.5,816.5 L1670.8,818.4 L1672.1,820.2 L1673.4,822.0 L1674.8,823.6 L1676.1,825.3 L1677.4,826.8 L1678.7,828.4 L1680.1,829.9 L1681.4,831.4 L1682.7,832.9 L1684.0,834.4 L1685.3,835.8 L1686.7,837.2 L1688.0,838.5 L1689.3,839.9 L1690.6,841.1 L1692.0,842.4 L1693.3,843.6 L1694.6,844.8 L1695.9,845.9 L1697.2,847.1 L1698.6,848.1 L1699.9,849.1 L1701.2,850.1 L1702.5,851.1 L1703.9,852.0 L1705.2,852.8 L1706.5,853.6 L1707.8,854.4 L1709.1,855.1 L1710.5,855.8 L1711.8,856.4 L1713.1,857.0 L1714.4,857.5 L1715.8,858.0 L1717.1,858.4 L1718.4,858.8 L1719.7,859.1 L1721.0,859.4 L1722.4,859.6 L1723.7,859.7 L1725.0,859.8 L1726.3,859.8 L1727.7,859.7 L1729.0,859.6 L1730.3,859.4 L1731.6,859.1 L1732.9,858.7 L1734.3,858.3 L1735.6,857.8 L1736.9,857.3 L1738.2,856.7 L1739.6,856.0 L1740.9,855.3 L1742.2,854.5 L1743.5,853.7 L1744.8,852.8 L1746.2,851.9 L1747.5,851.0 L1748.8,850.0 L1750.1,849.0 L1751.5,848.0 L1752.8,846.9 L1754.1,845.8 L1755.4,844.6 L1756.7,843.4 L1758.1,842.2 L1759.4,840.9 L1760.7,839.5 L1762.0,838.0 L1763.3,836.6 L1764.7,835.0 L1766.0,833.4 L1767.3,831.8 L1768.6,830.1 L1770.0,828.3 L1771.3,826.5 L1772.6,824.7 L1773.9,822.8 L1775.2,820.8 L1776.6,818.9 L1777.9,816.8 L1779.2,814.8 L1780.5,812.7 L1781.9,810.5 L1783.2,808.3 L1784.5,806.1 L1785.8,803.8 L1787.1,801.5 L1788.5,799.2 L1789.8,796.8 L1791.1,794.4 L1792.4,791.9 L1793.8,789.5 L1795.1,786.9 L1796.4,784.4 L1797.7,781.9 L1799.0,779.3 L1800.4,776.6 L1801.7,774.0 L1803.0,771.3 L1804.3,768.6 L1805.7,765.9 L1807.0,763.2 L1808.3,760.4 L1809.6,757.7 L1810.9,754.9 L1812.3,752.1 L1813.6,749.2 L1814.9,746.4 L1816.2,743.6 L1817.6,740.7 L1818.9,737.8 L1820.2,734.9 L1821.5,732.0 L1822.8,729.1 L1824.2,726.2 L1825.5,723.3 L1826.8,720.3 L1828.1,717.4 L1829.5,714.5 L1830.8,711.5 L1832.1,708.6 L1833.4,705.6 L1834.7,702.7 L1836.1,699.6 L1837.4,696.5 L1838.7,693.3 L1840.0,690.0 L1841.4,686.7 L1842.7,683.3 L1844.0,679.9 L1845.3,676.4 L1846.6,672.8 L1848.0,669.2 L1849.3,665.6 L1850.6,661.9 L1851.9,658.1 L1853.3,654.3 L1854.6,650.5 L1855.9,646.6 L1857.2,642.7 L1858.5,638.8 L1859.9,634.8 L1861.2,630.9 L1862.5,626.8 L1863.8,622.8 L1865.2,618.7 L1866.5,614.7 L1867.8,610.6 L1869.1,606.5 L1870.4,602.4 L1871.8,598.2 L1873.1,594.1 L1874.4,590.0 L1875.7,585.8 L1877.1,581.7 L1878.4,577.6 L1879.7,573.5 L1881.0,569.3 L1882.3,565.2 L1883.7,561.2 L1885.0,557.1 L1886.3,553.0 L1887.6,549.0 L1889.0,545.0 L1890.3,541.0 L1891.6,537.0 L1892.9,533.1 L1894.2,529.2 L1895.6,525.3 L1896.9,521.5 L1898.2,517.7 L1899.5,514.0 L1900.9,510.3 L1902.2,506.6 L1903.5,503.0 L1904.8,499.5 L1906.1,496.0 L1907.5,492.5 L1908.8,489.1 L1910.1,485.8 L1911.4,482.6 L1912.8,479.4 L1914.1,476.2 L1915.4,473.0 L1916.7,469.8 L1918.0,466.6 L1919.4,463.4 L1920.7,460.2 L1922.0,456.9 L1923.3,453.7 L1924.6,450.4 L1926.0,447.2 L1927.3,443.9 L1928.6,440.7 L1929.9,437.4 L1931.3,434.2 L1932.6,430.9 L1933.9,427.7 L1935.2,424.5 L1936.5,421.3 L1937.9,418.1 L1939.2,414.9 L1940.5,411.7 L1941.8,408.6 L1943.2,405.4 L1944.5,402.3 L1945.8,399.2 L1947.1,396.2 L1948.4,393.2 L1949.8,390.2 L1951.1,387.2 L1952.4,384.3 L1953.7,381.4 L1955.1,378.5 L1956.4,375.7 L1957.7,372.9 L1959.0,370.1 L1960.3,367.4 L1961.7,364.7 L1963.0,362.1 L1964.3,359.6 L1965.6,357.0 L1967.0,354.6 L1968.3,352.2 L1969.6,349.8 L1970.9,347.5 L1972.2,345.3 L1973.6,343.1 L1974.9,341.0 L1976.2,338.9 L1977.5,336.9 L1978.9,335.0 L1980.2,333.1 L1981.5,331.4 L1982.8,329.6 L1984.1,328.0 L1985.5,326.5 L1986.8,325.0 L1988.1,323.6 L1989.4,322.2 L1990.8,321.0 L1992.1,319.9 L1993.4,318.8 L1994.7,317.7 L1996.0,316.6 L1997.4,315.6 L1998.7,314.5 L2000.0,313.5 L2001.3,312.6 L2002.7,311.6 L2004.0,310.7 L2005.3,309.8 L2006.6,308.9 L2007.9,308.1 L2009.3,307.2 L2010.6,306.4 L2011.9,305.7 L2013.2,305.0 L2014.6,304.3 L2015.9,303.6 L2017.2,303.0 L2018.5,302.4 L2019.8,301.9 L2021.2,301.3 L2022.5,300.9 L2023.8,300.4 L2025.1,300.0 L2026.5,299.7 L2027.8,299.4 L2029.1,299.1 L2030.4,298.9 L2031.7,298.7 L2033.1,298.6 L2034.4,298.6 L2035.7,298.5 L2037.0,298.6 L2038.4,298.6 L2039.7,298.8 L2041.0,298.9 L2042.3,299.2 L2043.6,299.4 L2045.0,299.7 L2046.3,300.1 L2047.6,300.5 L2048.9,301.0 L2050.3,301.4 L2051.6,302.0 L2052.9,302.5 L2054.2,303.1 L2055.5,303.7 L2056.9,304.4 L2058.2,305.1 L2059.5,305.8 L2060.8,306.6 L2062.2,307.4 L2063.5,308.2 L2064.8,309.1 L2066.1,309.9 L2067.4,310.8 L2068.8,311.8 L2070.1,312.7 L2071.4,313.7 L2072.7,314.7 L2074.0,315.8 L2075.4,317.0 L2076.7,318.2 L2078.0,319.5 L2079.3,320.9 L2080.7,322.4 L2082.0,323.9 L2083.3,325.5 L2084.6,327.2 L2085.9,328.9 L2087.3,330.7 L2088.6,332.6 L2089.9,334.5 L2091.2,336.5 L2092.6,338.5 L2093.9,340.6 L2095.2,342.8 L2096.5,345.0 L2097.8,347.2 L2099.2,349.5 L2100.5,351.8 L2101.8,354.2 L2103.1,356.6 L2104.5,359.1 L2105.8,361.6 L2107.1,364.2 L2108.4,366.7 L2109.7,369.4 L2111.1,372.0 L2112.4,374.7 L2113.7,377.4 L2115.0,380.2 L2116.4,382.9 L2117.7,385.7 L2119.0,388.5 L2120.3,391.4 L2121.6,394.2 L2123.0,397.1 L2124.3,400.0 L2125.6,402.9 L2126.9,405.9 L2128.3,408.8 L2129.6,411.7 L2130.9,414.7 L2132.2,417.7 L2133.5,420.6 L2134.9,423.6 L2136.2,426.6 L2137.5,429.6 L2138.8,432.5 L2140.2,435.5 L2141.5,438.5 L2142.8,441.5 L2144.1,444.4 L2145.4,447.4 L2146.8,450.3 L2148.1,453.2 L2149.4,456.1 L2150.7,459.0 L2152.1,461.9 L2153.4,464.9 L2154.7,467.9 L2156.0,470.9 L2157.3,473.9 L2158.7,477.0 L2160.0,480.1 L2161.3,483.2 L2162.6,486.4 L2164.0,489.6 L2165.3,492.8 L2166.6,496.1 L2167.9,499.3 L2169.2,502.7 L2170.6,506.0 L2171.9,509.4 L2173.2,512.8 L2174.5,516.2 L2175.9,519.7 L2177.2,523.1 L2178.5,526.6 L2179.8,530.2 L2181.1,533.7 L2182.5,537.3 L2183.8,540.9 L2185.1,544.5 L2186.4,548.2 L2187.8,551.8 L2189.1,555.5 L2190.4,559.2 L2191.7,563.0 L2193.0,566.7 L2194.4,570.5 L2195.7,574.3 L2197.0,578.1 L2198.3,581.9 L2199.7,585.7 L2201.0,589.6 L2202.3,593.5 L2203.6,597.4 L2204.9,601.3 L2206.3,605.2 L2207.6,609.1 L2208.9,613.1 L2210.2,617.1 L2211.6,621.1 L2212.9,625.1 L2214.2,629.1 L2215.5,633.1 L2216.8,637.1 L2218.2,641.2 L2219.5,645.2 L2220.8,649.3 L2222.1,653.3 L2223.4,657.4 L2224.8,661.5 L2226.1,665.6 L2227.4,669.7 L2228.7,673.8 L2230.1,678.0" fill="none" stroke="#0000ff" stroke-width="10" stroke-linejoin="round" stroke-linecap="round"/>
<polygon points="326.2,634.3 309.2,604.3 343.2,604.3" fill="#0000ff"/><polygon points="405.5,828.2 388.5,798.2 422.5,798.2" fill="#0000ff"/><polygon points="484.9,881.7 467.9,851.7 501.9,851.7" fill="#0000ff"/><polygon points="564.2,761.6 547.2,731.6 581.2,731.6" fill="#0000ff"/><polygon points="643.5,537.3 626.5,507.3 660.5,507.3" fill="#0000ff"/><polygon points="722.8,356.5 705.8,326.5 739.8,326.5" fill="#0000ff"/><polygon points="802.2,319.5 785.2,289.5 819.2,289.5" fill="#0000ff"/><polygon points="881.5,439.5 864.5,409.5 898.5,409.5" fill="#0000ff"/><polygon points="960.8,656.9 943.8,626.9 977.8,626.9" fill="#0000ff"/><polygon points="1040.1,844.6 1023.1,814.6 1057.1,814.6" fill="#0000ff"/><polygon points="1119.5,882.4 1102.5,852.4 1136.5,852.4" fill="#0000ff"/><polygon points="1198.8,751.4 1181.8,721.4 1215.8,721.4" fill="#0000ff"/><polygon points="1278.1,522.7 1261.1,492.7 1295.1,492.7" fill="#0000ff"/><polygon points="1357.5,348.5 1340.5,318.5 1374.5,318.5" fill="#0000ff"/><polygon points="1436.8,320.8 1419.8,290.8 1453.8,290.8" fill="#0000ff"/><polygon points="1516.1,449.6 1499.1,419.6 1533.1,419.6" fill="#0000ff"/><polygon points="1595.4,660.2 1578.4,630.2 1612.4,630.2" fill="#0000ff"/><polygon points="1674.8,843.6 1657.8,813.6 1691.8,813.6" fill="#0000ff"/><polygon points="1754.1,865.8 1737.1,835.8 1771.1,835.8" fill="#0000ff"/><polygon points="1833.4,725.6 1816.4,695.6 1850.4,695.6" fill="#0000ff"/><polygon points="1912.8,499.4 1895.8,469.4 1929.8,469.4" fill="#0000ff"/><polygon points="1992.1,339.9 1975.1,309.9 2009.1,309.9" fill="#0000ff"/><polygon points="2071.4,333.7 2054.4,303.7 2088.4,303.7" fill="#0000ff"/><polygon points="2150.7,479.0 2133.7,449.0 2167.7,449.0" fill="#0000ff"/><polygon points="2230.1,698.0 2213.1,668.0 2247.1,668.0" fill="#0000ff"/>
<path d="M326.2,643.1 L327.5,647.2 L328.8,651.3 L330.2,655.3 L331.5,659.4 L332.8,663.4 L334.1,667.5 L335.5,671.5 L336.8,675.5 L338.1,679.5 L339.4,683.5 L340.7,687.5 L342.1,691.5 L343.4,695.5 L344.7,699.4 L346.0,703.4 L347.4,707.3 L348.7,711.2 L350.0,715.1 L351.3,719.0 L352.6,722.9 L354.0,726.8 L355.3,730.6 L356.6,734.4 L357.9,738.3 L359.3,742.1 L360.6,745.8 L361.9,749.6 L363.2,753.4 L364.5,757.1 L365.9,760.8 L367.2,764.5 L368.5,768.2 L369.8,771.9 L371.2,775.5 L372.5,779.2 L373.8,782.8 L375.1,786.4 L376.4,790.0 L377.8,793.5 L379.1,797.0 L380.4,800.6 L381.7,804.0 L383.1,807.5 L384.4,811.0 L385.7,814.4 L387.0,817.8 L388.3,821.2 L389.7,824.5 L391.0,827.9 L392.3,831.2 L393.6,834.5 L395.0,837.7 L396.3,841.0 L397.6,844.2 L398.9,847.3 L400.2,850.5 L401.6,853.6 L402.9,856.7 L404.2,859.8 L405.5,862.9 L406.8,865.9 L408.2,869.0 L409.5,872.1 L410.8,875.2 L412.1,878.3 L413.5,881.4 L414.8,884.5 L416.1,887.7 L417.4,890.8 L418.7,894.0 L420.1,897.1 L421.4,900.3 L422.7,903.5 L424.0,906.6 L425.4,909.8 L426.7,912.9 L428.0,916.0 L429.3,919.2 L430.6,922.3 L432.0,925.4 L433.3,928.5 L434.6,931.6 L435.9,934.6 L437.3,937.7 L438.6,940.7 L439.9,943.7 L441.2,946.6 L442.5,949.6 L443.9,952.5 L445.2,955.4 L446.5,958.2 L447.8,961.1 L449.2,963.8 L450.5,966.6 L451.8,969.3 L453.1,972.0 L454.4,974.6 L455.8,977.2 L457.1,979.7 L458.4,982.2 L459.7,984.7 L461.1,987.0 L462.4,989.4 L463.7,991.7 L465.0,993.9 L466.3,996.1 L467.7,998.2 L469.0,1000.2 L470.3,1002.2 L471.6,1004.1 L473.0,1006.0 L474.3,1007.8 L475.6,1009.5 L476.9,1011.2 L478.2,1012.7 L479.6,1014.2 L480.9,1015.7 L482.2,1017.0 L483.5,1018.3 L484.9,1019.5 L486.2,1020.6 L487.5,1021.7 L488.8,1022.8 L490.1,1023.9 L491.5,1024.9 L492.8,1025.9 L494.1,1026.9 L495.4,1027.9 L496.8,1028.8 L498.1,1029.7 L499.4,1030.5 L500.7,1031.3 L502.0,1032.1 L503.4,1032.8 L504.7,1033.5 L506.0,1034.1 L507.3,1034.7 L508.7,1035.3 L510.0,1035.7 L511.3,1036.1 L512.6,1036.5 L513.9,1036.8 L515.3,1037.0 L516.6,1037.2 L517.9,1037.3 L519.2,1037.3 L520.6,1037.3 L521.9,1037.2 L523.2,1037.0 L524.5,1036.8 L525.8,1036.5 L527.2,1036.2 L528.5,1035.8 L529.8,1035.4 L531.1,1034.9 L532.5,1034.4 L533.8,1033.9 L535.1,1033.3 L536.4,1032.6 L537.7,1032.0 L539.1,1031.2 L540.4,1030.5 L541.7,1029.7 L543.0,1028.9 L544.4,1028.1 L545.7,1027.2 L547.0,1026.3 L548.3,1025.4 L549.6,1024.4 L551.0,1023.5 L552.3,1022.5 L553.6,1021.5 L554.9,1020.5 L556.2,1019.4 L557.6,1018.4 L558.9,1017.3 L560.2,1016.2 L561.5,1015.1 L562.9,1014.1 L564.2,1013.0 L565.5,1011.8 L566.8,1010.6 L568.1,1009.2 L569.5,1007.8 L570.8,1006.3 L572.1,1004.7 L573.4,1003.0 L574.8,1001.2 L576.1,999.4 L577.4,997.5 L578.7,995.5 L580.0,993.5 L581.4,991.4 L582.7,989.3 L584.0,987.0 L585.3,984.8 L586.7,982.4 L588.0,980.1 L589.3,977.7 L590.6,975.2 L591.9,972.7 L593.3,970.2 L594.6,967.6 L595.9,965.0 L597.2,962.4 L598.6,959.8 L599.9,957.1 L601.2,954.4 L602.5,951.7 L603.8,949.0 L605.2,946.3 L606.5,943.5 L607.8,940.6 L609.1,937.7 L610.5,934.6 L611.8,931.4 L613.1,928.2 L614.4,924.8 L615.7,921.4 L617.1,917.9 L618.4,914.4 L619.7,910.8 L621.0,907.1 L622.4,903.4 L623.7,899.6 L625.0,895.8 L626.3,892.0 L627.6,888.1 L629.0,884.2 L630.3,880.2 L631.6,876.2 L632.9,872.3 L634.3,868.2 L635.6,864.2 L636.9,860.2 L638.2,856.2 L639.5,852.1 L640.9,848.1 L642.2,844.1 L643.5,840.1 L644.8,836.1 L646.2,832.0 L647.5,827.8 L648.8,823.6 L650.1,819.3 L651.4,815.0 L652.8,810.7 L654.1,806.3 L655.4,801.9 L656.7,797.5 L658.1,793.1 L659.4,788.6 L660.7,784.2 L662.0,779.8 L663.3,775.4 L664.7,771.0 L666.0,766.6 L667.3,762.3 L668.6,757.9 L670.0,753.5 L671.3,749.0 L672.6,744.5 L673.9,740.0 L675.2,735.4 L676.6,730.9 L677.9,726.4 L679.2,721.9 L680.5,717.5 L681.9,713.1 L683.2,708.9 L684.5,704.7 L685.8,700.7 L687.1,696.8 L688.5,693.1 L689.8,689.5 L691.1,686.0 L692.4,682.5 L693.8,679.1 L695.1,675.7 L696.4,672.4 L697.7,669.2 L699.0,665.9 L700.4,662.8 L701.7,659.6 L703.0,656.6 L704.3,653.5 L705.6,650.5 L707.0,647.5 L708.3,644.6 L709.6,641.7 L710.9,638.8 L712.3,636.0 L713.6,633.2 L714.9,630.4 L716.2,627.6 L717.5,624.9 L718.9,622.2 L720.2,619.5 L721.5,616.8 L722.8,614.2 L724.2,611.5 L725.5,608.8 L726.8,606.1 L728.1,603.3 L729.4,600.6 L730.8,597.8 L732.1,595.0 L733.4,592.2 L734.7,589.4 L736.1,586.5 L737.4,583.7 L738.7,580.8 L740.0,577.9 L741.3,575.1 L742.7,572.2 L744.0,569.3 L745.3,566.4 L746.6,563.6 L748.0,560.7 L749.3,557.8 L750.6,555.0 L751.9,552.2 L753.2,549.3 L754.6,546.5 L755.9,543.7 L757.2,540.9 L758.5,538.2 L759.9,535.4 L761.2,532.7 L762.5,530.0 L763.8,527.4 L765.1,524.7 L766.5,522.1 L767.8,519.6 L769.1,517.0 L770.4,514.5 L771.8,512.1 L773.1,509.6 L774.4,507.3 L775.7,504.9 L777.0,502.7 L778.4,500.4 L779.7,498.2 L781.0,496.1 L782.3,494.0 L783.7,492.0 L785.0,490.0 L786.3,488.1 L787.6,486.2 L788.9,484.4 L790.3,482.7 L791.6,481.1 L792.9,479.5 L794.2,478.0 L795.6,476.5 L796.9,475.1 L798.2,473.8 L799.5,472.6 L800.8,471.5 L802.2,470.4 L803.5,469.4 L804.8,468.5 L806.1,467.6 L807.5,466.7 L808.8,465.8 L810.1,465.0 L811.4,464.3 L812.7,463.6 L814.1,462.9 L815.4,462.2 L816.7,461.6 L818.0,461.1 L819.4,460.6 L820.7,460.1 L822.0,459.7 L823.3,459.3 L824.6,459.0 L826.0,458.7 L827.3,458.4 L828.6,458.2 L829.9,458.1 L831.3,457.9 L832.6,457.9 L833.9,457.8 L835.2,457.9 L836.5,457.9 L837.9,458.0 L839.2,458.2 L840.5,458.4 L841.8,458.6 L843.2,458.9 L844.5,459.2 L845.8,459.6 L847.1,460.0 L848.4,460.4 L849.8,460.9 L851.1,461.4 L852.4,462.0 L853.7,462.5 L855.0,463.2 L856.4,463.8 L857.7,464.5 L859.0,465.2 L860.3,466.0 L861.7,466.7 L863.0,467.5 L864.3,468.4 L865.6,469.2 L866.9,470.1 L868.3,471.0 L869.6,472.0 L870.9,473.0 L872.2,473.9 L873.6,475.0 L874.9,476.0 L876.2,477.1 L877.5,478.1 L878.8,479.2 L880.2,480.4 L881.5,481.5 L882.8,482.7 L884.1,484.0 L885.5,485.3 L886.8,486.8 L888.1,488.3 L889.4,489.9 L890.7,491.5 L892.1,493.3 L893.4,495.1 L894.7,497.0 L896.0,498.9 L897.4,500.9 L898.7,503.0 L900.0,505.2 L901.3,507.4 L902.6,509.6 L904.0,512.0 L905.3,514.4 L906.6,516.8 L907.9,519.3 L909.3,521.8 L910.6,524.4 L911.9,527.0 L913.2,529.7 L914.5,532.4 L915.9,535.2 L917.2,538.0 L918.5,540.9 L919.8,543.8 L921.2,546.7 L922.5,549.6 L923.8,552.6 L925.1,555.6 L926.4,558.7 L927.8,561.7 L929.1,564.8 L930.4,567.9 L931.7,571.1 L933.1,574.2 L934.4,577.4 L935.7,580.6 L937.0,583.8 L938.3,587.0 L939.7,590.3 L941.0,593.5 L942.3,596.7 L943.6,600.0 L945.0,603.3 L946.3,606.5 L947.6,609.8 L948.9,613.0 L950.2,616.3 L951.6,619.5 L952.9,622.8 L954.2,626.0 L955.5,629.2 L956.9,632.4 L958.2,635.6 L959.5,638.8 L960.8,642.0 L962.1,645.2 L963.5,648.4 L964.8,651.7 L966.1,655.0 L967.4,658.4 L968.8,661.8 L970.1,665.3 L971.4,668.8 L972.7,672.3 L974.0,675.9 L975.4,679.5 L976.7,683.2 L978.0,686.9 L979.3,690.6 L980.7,694.3 L982.0,698.1 L983.3,701.9 L984.6,705.7 L985.9,709.6 L987.3,713.4 L988.6,717.3 L989.9,721.2 L991.2,725.1 L992.6,729.0 L993.9,733.0 L995.2,736.9 L996.5,740.8 L997.8,744.8 L999.2,748.8 L1000.5,752.7 L1001.8,756.7 L1003.1,760.6 L1004.5,764.6 L1005.8,768.6 L1007.1,772.5 L1008.4,776.4 L1009.7,780.4 L1011.1,784.3 L1012.4,788.2 L1013.7,792.1 L1015.0,796.0 L1016.3,799.8 L1017.7,803.6 L1019.0,807.5 L1020.3,811.2 L1021.6,815.0 L1023.0,818.7 L1024.3,822.4 L1025.6,826.1 L1026.9,829.8 L1028.2,833.4 L1029.6,836.9 L1030.9,840.5 L1032.2,844.0 L1033.5,847.4 L1034.9,850.8 L1036.2,854.2 L1037.5,857.5 L1038.8,860.8 L1040.1,864.0 L1041.5,867.2 L1042.8,870.3 L1044.1,873.4 L1045.4,876.5 L1046.8,879.6 L1048.1,882.6 L1049.4,885.6 L1050.7,888.5 L1052.0,891.5 L1053.4,894.4 L1054.7,897.3 L1056.0,900.1 L1057.3,903.0 L1058.7,905.8 L1060.0,908.6 L1061.3,911.4 L1062.6,914.2 L1063.9,916.9 L1065.3,919.7 L1066.6,922.4 L1067.9,925.1 L1069.2,927.8 L1070.6,930.5 L1071.9,933.2 L1073.2,935.9 L1074.5,938.6 L1075.8,941.3 L1077.2,944.0 L1078.5,946.7 L1079.8,949.3 L1081.1,952.0 L1082.5,954.7 L1083.8,957.5 L1085.1,960.3 L1086.4,963.2 L1087.7,966.1 L1089.1,969.0 L1090.4,972.0 L1091.7,975.0 L1093.0,978.0 L1094.4,980.9 L1095.7,983.9 L1097.0,986.8 L1098.3,989.8 L1099.6,992.7 L1101.0,995.5 L1102.3,998.3 L1103.6,1001.0 L1104.9,1003.7 L1106.3,1006.3 L1107.6,1008.8 L1108.9,1011.2 L1110.2,1013.5 L1111.5,1015.7 L1112.9,1017.8 L1114.2,1019.8 L1115.5,1021.6 L1116.8,1023.4 L1118.2,1024.9 L1119.5,1026.3 L1120.8,1027.6 L1122.1,1028.9 L1123.4,1030.1 L1124.8,1031.3 L1126.1,1032.4 L1127.4,1033.6 L1128.7,1034.6 L1130.1,1035.7 L1131.4,1036.7 L1132.7,1037.6 L1134.0,1038.5 L1135.3,1039.4 L1136.7,1040.2 L1138.0,1041.0 L1139.3,1041.7 L1140.6,1042.4 L1142.0,1043.0 L1143.3,1043.6 L1144.6,1044.1 L1145.9,1044.6 L1147.2,1045.0 L1148.6,1045.4 L1149.9,1045.7 L1151.2,1046.0 L1152.5,1046.2 L1153.9,1046.4 L1155.2,1046.5 L1156.5,1046.5 L1157.8,1046.5 L1159.1,1046.4 L1160.5,1046.3 L1161.8,1046.1 L1163.1,1045.8 L1164.4,1045.5 L1165.7,1045.1 L1167.1,1044.7 L1168.4,1044.2 L1169.7,1043.7 L1171.0,1043.1 L1172.4,1042.5 L1173.7,1041.8 L1175.0,1041.0 L1176.3,1040.3 L1177.6,1039.5 L1179.0,1038.6 L1180.3,1037.7 L1181.6,1036.8 L1182.9,1035.9 L1184.3,1034.9 L1185.6,1033.9 L1186.9,1032.8 L1188.2,1031.8 L1189.5,1030.7 L1190.9,1029.6 L1192.2,1028.4 L1193.5,1027.3 L1194.8,1026.1 L1196.2,1024.9 L1197.5,1023.8 L1198.8,1022.6 L1200.1,1021.3 L1201.4,1019.8 L1202.8,1018.2 L1204.1,1016.5 L1205.4,1014.6 L1206.7,1012.6 L1208.1,1010.5 L1209.4,1008.3 L1210.7,1006.0 L1212.0,1003.5 L1213.3,1001.0 L1214.7,998.4 L1216.0,995.7 L1217.3,993.0 L1218.6,990.2 L1220.0,987.4 L1221.3,984.5 L1222.6,981.5 L1223.9,978.6 L1225.2,975.6 L1226.6,972.6 L1227.9,969.6 L1229.2,966.6 L1230.5,963.5 L1231.9,960.2 L1233.2,956.7 L1234.5,953.0 L1235.8,949.3 L1237.1,945.4 L1238.5,941.4 L1239.8,937.4 L1241.1,933.2 L1242.4,929.1 L1243.8,924.9 L1245.1,920.8 L1246.4,916.6 L1247.7,912.5 L1249.0,908.4 L1250.4,904.4 L1251.7,900.5 L1253.0,896.7 L1254.3,893.1 L1255.7,889.6 L1257.0,886.2 L1258.3,883.0 L1259.6,880.1 L1260.9,877.4 L1262.3,875.0 L1263.6,872.7 L1264.9,870.7 L1266.2,868.7 L1267.6,866.8 L1268.9,864.9 L1270.2,863.0 L1271.5,861.1 L1272.8,859.0 L1274.2,856.8 L1275.5,854.4 L1276.8,851.8 L1278.1,848.9 L1279.5,845.8 L1280.8,842.6 L1282.1,839.4 L1283.4,836.1 L1284.7,832.7 L1286.1,829.3 L1287.4,825.8 L1288.7,822.3 L1290.0,818.7 L1291.4,815.0 L1292.7,811.3 L1294.0,807.5 L1295.3,803.7 L1296.6,799.8 L1298.0,796.0 L1299.3,792.0 L1300.6,788.0 L1301.9,784.0 L1303.3,780.0 L1304.6,775.9 L1305.9,771.9 L1307.2,767.8 L1308.5,763.6 L1309.9,759.5 L1311.2,755.3 L1312.5,751.1 L1313.8,746.9 L1315.1,742.7 L1316.5,738.5 L1317.8,734.3 L1319.1,730.1 L1320.4,725.9 L1321.8,721.7 L1323.1,717.6 L1324.4,713.4 L1325.7,709.2 L1327.0,705.1 L1328.4,700.9 L1329.7,696.8 L1331.0,692.8 L1332.3,688.7 L1333.7,684.7 L1335.0,680.7 L1336.3,676.7 L1337.6,672.8 L1338.9,668.9 L1340.3,665.0 L1341.6,661.2 L1342.9,657.5 L1344.2,653.8 L1345.6,650.1 L1346.9,646.5 L1348.2,643.0 L1349.5,639.5 L1350.8,636.1 L1352.2,632.7 L1353.5,629.4 L1354.8,626.2 L1356.1,623.1 L1357.5,620.0 L1358.8,617.0 L1360.1,613.9 L1361.4,610.9 L1362.7,607.8 L1364.1,604.8 L1365.4,601.7 L1366.7,598.6 L1368.0,595.6 L1369.4,592.5 L1370.7,589.5 L1372.0,586.4 L1373.3,583.4 L1374.6,580.3 L1376.0,577.3 L1377.3,574.3 L1378.6,571.3 L1379.9,568.3 L1381.3,565.3 L1382.6,562.4 L1383.9,559.4 L1385.2,556.5 L1386.5,553.6 L1387.9,550.7 L1389.2,547.8 L1390.5,545.0 L1391.8,542.2 L1393.2,539.4 L1394.5,536.7 L1395.8,534.0 L1397.1,531.3 L1398.4,528.6 L1399.8,526.0 L1401.1,523.4 L1402.4,520.9 L1403.7,518.4 L1405.1,515.9 L1406.4,513.5 L1407.7,511.1 L1409.0,508.8 L1410.3,506.5 L1411.7,504.3 L1413.0,502.1 L1414.3,499.9 L1415.6,497.9 L1417.0,495.8 L1418.3,493.9 L1419.6,491.9 L1420.9,490.1 L1422.2,488.3 L1423.6,486.6 L1424.9,484.9 L1426.2,483.3 L1427.5,481.7 L1428.9,480.2 L1430.2,478.8 L1431.5,477.5 L1432.8,476.2 L1434.1,475.0 L1435.5,473.9 L1436.8,472.9 L1438.1,471.9 L1439.4,470.9 L1440.8,469.9 L1442.1,469.0 L1443.4,468.1 L1444.7,467.2 L1446.0,466.3 L1447.4,465.5 L1448.7,464.7 L1450.0,464.0 L1451.3,463.2 L1452.7,462.6 L1454.0,461.9 L1455.3,461.3 L1456.6,460.7 L1457.9,460.2 L1459.3,459.7 L1460.6,459.3 L1461.9,459.0 L1463.2,458.6 L1464.5,458.4 L1465.9,458.2 L1467.2,458.0 L1468.5,457.9 L1469.8,457.9 L1471.2,457.9 L1472.5,458.0 L1473.8,458.1 L1475.1,458.3 L1476.4,458.5 L1477.8,458.7 L1479.1,459.0 L1480.4,459.4 L1481.7,459.8 L1483.1,460.2 L1484.4,460.6 L1485.7,461.1 L1487.0,461.7 L1488.3,462.2 L1489.7,462.8 L1491.0,463.5 L1492.3,464.1 L1493.6,464.8 L1495.0,465.6 L1496.3,466.3 L1497.6,467.1 L1498.9,468.0 L1500.2,468.8 L1501.6,469.7 L1502.9,470.6 L1504.2,471.5 L1505.5,472.5 L1506.9,473.4 L1508.2,474.4 L1509.5,475.5 L1510.8,476.5 L1512.1,477.6 L1513.5,478.6 L1514.8,479.7 L1516.1,480.8 L1517.4,482.0 L1518.8,483.2 L1520.1,484.6 L1521.4,486.0 L1522.7,487.4 L1524.0,489.0 L1525.4,490.6 L1526.7,492.3 L1528.0,494.1 L1529.3,495.9 L1530.7,497.8 L1532.0,499.8 L1533.3,501.8 L1534.6,503.9 L1535.9,506.0 L1537.3,508.3 L1538.6,510.5 L1539.9,512.8 L1541.2,515.2 L1542.6,517.6 L1543.9,520.1 L1545.2,522.6 L1546.5,525.2 L1547.8,527.8 L1549.2,530.5 L1550.5,533.2 L1551.8,535.9 L1553.1,538.7 L1554.5,541.5 L1555.8,544.3 L1557.1,547.2 L1558.4,550.1 L1559.7,553.0 L1561.1,556.0 L1562.4,559.0 L1563.7,562.0 L1565.0,565.1 L1566.4,568.1 L1567.7,571.2 L1569.0,574.3 L1570.3,577.4 L1571.6,580.5 L1573.0,583.7 L1574.3,586.8 L1575.6,590.0 L1576.9,593.2 L1578.3,596.4 L1579.6,599.5 L1580.9,602.7 L1582.2,605.9 L1583.5,609.1 L1584.9,612.3 L1586.2,615.4 L1587.5,618.6 L1588.8,621.8 L1590.2,624.9 L1591.5,628.1 L1592.8,631.2 L1594.1,634.3 L1595.4,637.4 L1596.8,640.6 L1598.1,643.7 L1599.4,647.0 L1600.7,650.2 L1602.1,653.6 L1603.4,656.9 L1604.7,660.3 L1606.0,663.8 L1607.3,667.3 L1608.7,670.8 L1610.0,674.4 L1611.3,678.0 L1612.6,681.6 L1613.9,685.3 L1615.3,689.0 L1616.6,692.7 L1617.9,696.5 L1619.2,700.2 L1620.6,704.0 L1621.9,707.9 L1623.2,711.7 L1624.5,715.6 L1625.8,719.4 L1627.2,723.3 L1628.5,727.2 L1629.8,731.1 L1631.1,735.0 L1632.5,738.9 L1633.8,742.9 L1635.1,746.8 L1636.4,750.7 L1637.7,754.6 L1639.1,758.5 L1640.4,762.5 L1641.7,766.4 L1643.0,770.3 L1644.4,774.2 L1645.7,778.0 L1647.0,781.9 L1648.3,785.8 L1649.6,789.6 L1651.0,793.4 L1652.3,797.2 L1653.6,801.0 L1654.9,804.7 L1656.3,808.4 L1657.6,812.1 L1658.9,815.8 L1660.2,819.4 L1661.5,823.0 L1662.9,826.6 L1664.2,830.1 L1665.5,833.6 L1666.8,837.0 L1668.2,840.4 L1669.5,843.8 L1670.8,847.1 L1672.1,850.3 L1673.4,853.5 L1674.8,856.7 L1676.1,859.8 L1677.4,863.0 L1678.7,866.2 L1680.1,869.4 L1681.4,872.6 L1682.7,875.8 L1684.0,879.0 L1685.3,882.2 L1686.7,885.4 L1688.0,888.7 L1689.3,891.9 L1690.6,895.1 L1692.0,898.4 L1693.3,901.6 L1694.6,904.8 L1695.9,908.1 L1697.2,911.3 L1698.6,914.5 L1699.9,917.7 L1701.2,920.8 L1702.5,924.0 L1703.9,927.1 L1705.2,930.3 L1706.5,933.4 L1707.8,936.4 L1709.1,939.5 L1710.5,942.5 L1711.8,945.5 L1713.1,948.5 L1714.4,951.4 L1715.8,954.4 L1717.1,957.2 L1718.4,960.1 L1719.7,962.9 L1721.0,965.7 L1722.4,968.4 L1723.7,971.1 L1725.0,973.7 L1726.3,976.3 L1727.7,978.8 L1729.0,981.3 L1730.3,983.8 L1731.6,986.2 L1732.9,988.5 L1734.3,990.8 L1735.6,993.0 L1736.9,995.2 L1738.2,997.2 L1739.6,999.3 L1740.9,1001.3 L1742.2,1003.2 L1743.5,1005.0 L1744.8,1006.8 L1746.2,1008.5 L1747.5,1010.1 L1748.8,1011.6 L1750.1,1013.1 L1751.5,1014.5 L1752.8,1015.8 L1754.1,1017.0 L1755.4,1018.2 L1756.7,1019.3 L1758.1,1020.5 L1759.4,1021.6 L1760.7,1022.6 L1762.0,1023.7 L1763.3,1024.7 L1764.7,1025.7 L1766.0,1026.6 L1767.3,1027.5 L1768.6,1028.4 L1770.0,1029.3 L1771.3,1030.1 L1772.6,1030.8 L1773.9,1031.6 L1775.2,1032.3 L1776.6,1032.9 L1777.9,1033.6 L1779.2,1034.1 L1780.5,1034.7 L1781.9,1035.1 L1783.2,1035.6 L1784.5,1036.0 L1785.8,1036.3 L1787.1,1036.6 L1788.5,1036.9 L1789.8,1037.1 L1791.1,1037.2 L1792.4,1037.3 L1793.8,1037.4 L1795.1,1037.4 L1796.4,1037.3 L1797.7,1037.2 L1799.0,1037.0 L1800.4,1036.7 L1801.7,1036.4 L1803.0,1036.1 L1804.3,1035.6 L1805.7,1035.2 L1807.0,1034.6 L1808.3,1034.1 L1809.6,1033.4 L1810.9,1032.8 L1812.3,1032.1 L1813.6,1031.3 L1814.9,1030.5 L1816.2,1029.6 L1817.6,1028.7 L1818.9,1027.8 L1820.2,1026.8 L1821.5,1025.8 L1822.8,1024.8 L1824.2,1023.7 L1825.5,1022.6 L1826.8,1021.4 L1828.1,1020.2 L1829.5,1019.0 L1830.8,1017.8 L1832.1,1016.5 L1833.4,1015.2 L1834.7,1013.9 L1836.1,1012.4 L1837.4,1010.9 L1838.7,1009.3 L1840.0,1007.6 L1841.4,1005.8 L1842.7,1004.0 L1844.0,1002.1 L1845.3,1000.1 L1846.6,998.0 L1848.0,995.8 L1849.3,993.6 L1850.6,991.3 L1851.9,989.0 L1853.3,986.6 L1854.6,984.1 L1855.9,981.6 L1857.2,979.0 L1858.5,976.3 L1859.9,973.6 L1861.2,970.9 L1862.5,968.1 L1863.8,965.2 L1865.2,962.3 L1866.5,959.4 L1867.8,956.4 L1869.1,953.3 L1870.4,950.3 L1871.8,947.2 L1873.1,944.0 L1874.4,940.9 L1875.7,937.7 L1877.1,934.4 L1878.4,931.2 L1879.7,927.9 L1881.0,924.6 L1882.3,921.3 L1883.7,917.9 L1885.0,914.6 L1886.3,911.2 L1887.6,907.8 L1889.0,904.4 L1890.3,900.9 L1891.6,897.5 L1892.9,894.1 L1894.2,890.7 L1895.6,887.2 L1896.9,883.8 L1898.2,880.3 L1899.5,876.9 L1900.9,873.5 L1902.2,870.1 L1903.5,866.6 L1904.8,863.2 L1906.1,859.9 L1907.5,856.5 L1908.8,853.1 L1910.1,849.8 L1911.4,846.5 L1912.8,843.2 L1914.1,839.9 L1915.4,836.5 L1916.7,833.1 L1918.0,829.6 L1919.4,826.1 L1920.7,822.5 L1922.0,818.9 L1923.3,815.3 L1924.6,811.6 L1926.0,807.9 L1927.3,804.1 L1928.6,800.3 L1929.9,796.5 L1931.3,792.6 L1932.6,788.8 L1933.9,784.8 L1935.2,780.9 L1936.5,777.0 L1937.9,773.0 L1939.2,769.0 L1940.5,765.0 L1941.8,761.0 L1943.2,756.9 L1944.5,752.9 L1945.8,748.8 L1947.1,744.8 L1948.4,740.7 L1949.8,736.6 L1951.1,732.6 L1952.4,728.5 L1953.7,724.5 L1955.1,720.4 L1956.4,716.4 L1957.7,712.4 L1959.0,708.4 L1960.3,704.4 L1961.7,700.4 L1963.0,696.4 L1964.3,692.5 L1965.6,688.5 L1967.0,684.6 L1968.3,680.8 L1969.6,676.9 L1970.9,673.1 L1972.2,669.4 L1973.6,665.6 L1974.9,661.9 L1976.2,658.2 L1977.5,654.6 L1978.9,651.0 L1980.2,647.5 L1981.5,644.0 L1982.8,640.6 L1984.1,637.2 L1985.5,633.9 L1986.8,630.6 L1988.1,627.4 L1989.4,624.2 L1990.8,621.1 L1992.1,618.1 L1993.4,615.1 L1994.7,612.0 L1996.0,609.0 L1997.4,606.0 L1998.7,602.9 L2000.0,599.9 L2001.3,596.8 L2002.7,593.8 L2004.0,590.7 L2005.3,587.7 L2006.6,584.7 L2007.9,581.6 L2009.3,578.6 L2010.6,575.6 L2011.9,572.6 L2013.2,569.6 L2014.6,566.6 L2015.9,563.6 L2017.2,560.7 L2018.5,557.8 L2019.8,554.9 L2021.2,552.0 L2022.5,549.1 L2023.8,546.3 L2025.1,543.4 L2026.5,540.7 L2027.8,537.9 L2029.1,535.2 L2030.4,532.5 L2031.7,529.8 L2033.1,527.2 L2034.4,524.6 L2035.7,522.1 L2037.0,519.6 L2038.4,517.1 L2039.7,514.7 L2041.0,512.3 L2042.3,510.0 L2043.6,507.7 L2045.0,505.5 L2046.3,503.3 L2047.6,501.2 L2048.9,499.1 L2050.3,497.1 L2051.6,495.2 L2052.9,493.3 L2054.2,491.5 L2055.5,489.7 L2056.9,488.0 L2058.2,486.4 L2059.5,484.8 L2060.8,483.3 L2062.2,481.9 L2063.5,480.5 L2064.8,479.2 L2066.1,478.0 L2067.4,476.9 L2068.8,475.9 L2070.1,474.9 L2071.4,474.0 L2072.7,473.2 L2074.0,472.4 L2075.4,471.6 L2076.7,470.8 L2078.0,470.1 L2079.3,469.4 L2080.7,468.8 L2082.0,468.1 L2083.3,467.5 L2084.6,467.0 L2085.9,466.4 L2087.3,465.9 L2088.6,465.5 L2089.9,465.0 L2091.2,464.6 L2092.6,464.3 L2093.9,464.0 L2095.2,463.7 L2096.5,463.5 L2097.8,463.3 L2099.2,463.2 L2100.5,463.1 L2101.8,463.0 L2103.1,463.0 L2104.5,463.1 L2105.8,463.2 L2107.1,463.3 L2108.4,463.5 L2109.7,463.7 L2111.1,464.0 L2112.4,464.3 L2113.7,464.6 L2115.0,465.0 L2116.4,465.4 L2117.7,465.8 L2119.0,466.3 L2120.3,466.8 L2121.6,467.4 L2123.0,468.0 L2124.3,468.6 L2125.6,469.2 L2126.9,469.9 L2128.3,470.5 L2129.6,471.2 L2130.9,472.0 L2132.2,472.7 L2133.5,473.5 L2134.9,474.3 L2136.2,475.1 L2137.5,476.0 L2138.8,476.9 L2140.2,477.7 L2141.5,478.6 L2142.8,479.5 L2144.1,480.5 L2145.4,481.4 L2146.8,482.3 L2148.1,483.3 L2149.4,484.3 L2150.7,485.2 L2152.1,486.3 L2153.4,487.4 L2154.7,488.6 L2156.0,489.9 L2157.3,491.2 L2158.7,492.7 L2160.0,494.2 L2161.3,495.8 L2162.6,497.5 L2164.0,499.2 L2165.3,501.1 L2166.6,503.0 L2167.9,504.9 L2169.2,506.9 L2170.6,509.0 L2171.9,511.2 L2173.2,513.4 L2174.5,515.7 L2175.9,518.1 L2177.2,520.5 L2178.5,522.9 L2179.8,525.4 L2181.1,528.0 L2182.5,530.6 L2183.8,533.3 L2185.1,536.0 L2186.4,538.7 L2187.8,541.5 L2189.1,544.4 L2190.4,547.2 L2191.7,550.2 L2193.0,553.1 L2194.4,556.1 L2195.7,559.1 L2197.0,562.2 L2198.3,565.3 L2199.7,568.4 L2201.0,571.5 L2202.3,574.7 L2203.6,577.9 L2204.9,581.1 L2206.3,584.3 L2207.6,587.6 L2208.9,590.8 L2210.2,594.1 L2211.6,597.4 L2212.9,600.7 L2214.2,604.0 L2215.5,607.4 L2216.8,610.7 L2218.2,614.0 L2219.5,617.4 L2220.8,620.7 L2222.1,624.0 L2223.4,627.4 L2224.8,630.7 L2226.1,634.0 L2227.4,637.3 L2228.7,640.6 L2230.1,643.9" fill="none" stroke="#ff00ff" stroke-width="10" stroke-linejoin="round" stroke-linecap="round"/>
<polygon points="326.2,624.1 344.7,643.1 326.2,662.1 307.7,643.1" fill="#ff00ff"/><polygon points="405.5,843.9 424.0,862.9 405.5,881.9 387.0,862.9" fill="#ff00ff"/><polygon points="484.9,1000.5 503.4,1019.5 484.9,1038.5 466.4,1019.5" fill="#ff00ff"/><polygon points="564.2,994.0 582.7,1013.0 564.2,1032.0 545.7,1013.0" fill="#ff00ff"/><polygon points="643.5,821.1 662.0,840.1 643.5,859.1 625.0,840.1" fill="#ff00ff"/><polygon points="722.8,595.2 741.3,614.2 722.8,633.2 704.3,614.2" fill="#ff00ff"/><polygon points="802.2,451.4 820.7,470.4 802.2,489.4 783.7,470.4" fill="#ff00ff"/><polygon points="881.5,462.5 900.0,481.5 881.5,500.5 863.0,481.5" fill="#ff00ff"/><polygon points="960.8,623.0 979.3,642.0 960.8,661.0 942.3,642.0" fill="#ff00ff"/><polygon points="1040.1,845.0 1058.6,864.0 1040.1,883.0 1021.6,864.0" fill="#ff00ff"/><polygon points="1119.5,1007.3 1138.0,1026.3 1119.5,1045.3 1101.0,1026.3" fill="#ff00ff"/><polygon points="1198.8,1003.6 1217.3,1022.6 1198.8,1041.6 1180.3,1022.6" fill="#ff00ff"/><polygon points="1278.1,829.9 1296.6,848.9 1278.1,867.9 1259.6,848.9" fill="#ff00ff"/><polygon points="1357.5,601.0 1376.0,620.0 1357.5,639.0 1339.0,620.0" fill="#ff00ff"/><polygon points="1436.8,453.9 1455.3,472.9 1436.8,491.9 1418.3,472.9" fill="#ff00ff"/><polygon points="1516.1,461.8 1534.6,480.8 1516.1,499.8 1497.6,480.8" fill="#ff00ff"/><polygon points="1595.4,618.4 1613.9,637.4 1595.4,656.4 1576.9,637.4" fill="#ff00ff"/><polygon points="1674.8,837.7 1693.3,856.7 1674.8,875.7 1656.3,856.7" fill="#ff00ff"/><polygon points="1754.1,998.0 1772.6,1017.0 1754.1,1036.0 1735.6,1017.0" fill="#ff00ff"/><polygon points="1833.4,996.2 1851.9,1015.2 1833.4,1034.2 1814.9,1015.2" fill="#ff00ff"/><polygon points="1912.8,824.2 1931.2,843.2 1912.8,862.2 1894.2,843.2" fill="#ff00ff"/><polygon points="1992.1,599.1 2010.6,618.1 1992.1,637.1 1973.6,618.1" fill="#ff00ff"/><polygon points="2071.4,455.0 2089.9,474.0 2071.4,493.0 2052.9,474.0" fill="#ff00ff"/><polygon points="2150.7,466.2 2169.2,485.2 2150.7,504.2 2132.2,485.2" fill="#ff00ff"/><polygon points="2230.1,624.9 2248.6,643.9 2230.1,662.9 2211.6,643.9" fill="#ff00ff"/>
<g class="tk">
<text x="326.2" y="1621" text-anchor="middle">0</text>
<text x="643.5" y="1621" text-anchor="middle">60</text>
<text x="960.8" y="1621" text-anchor="middle">120</text>
<text x="1278.1" y="1621" text-anchor="middle">180</text>
<text x="1595.4" y="1621" text-anchor="middle">240</text>
<text x="1912.8" y="1621" text-anchor="middle">300</text>
<text x="2230.1" y="1621" text-anchor="middle">360</text>
<text x="289" y="1297.5" text-anchor="end">0</text>
<text x="289" y="1134.7" text-anchor="end">10</text>
<text x="289" y="972.0" text-anchor="end">20</text>
<text x="289" y="809.2" text-anchor="end">30</text>
<text x="289" y="646.4" text-anchor="end">40</text>
<text x="289" y="483.6" text-anchor="end">50</text>
<text x="289" y="320.9" text-anchor="end">60</text>
<text x="289" y="158.1" text-anchor="end">70</text>
<text x="289" y="1460.3" text-anchor="end">−10</text>
</g>
<rect x="335.5" y="53" width="1669.7" height="215.4" fill="#fff" stroke="#000" stroke-width="2.4"/>
<path d="M348.0,110.5H529.0" stroke="#4d4d4d" stroke-width="10.4" stroke-linecap="round"/>
<rect x="425.5" y="97.5" width="26" height="26" fill="#4d4d4d"/>
<text class="ss" font-size="93" text-anchor="middle" transform="translate(0.0,142.3) scale(0.740,1)" x="808.9 871.1 933.2 995.4 1057.6 1104.9 1181.9" y="0">TSR=0.5</text>
<path d="M943.0,110.5H1124.0" stroke="#ff0000" stroke-width="10.4" stroke-linecap="round"/>
<circle cx="1033.5" cy="110.5" r="14" fill="#ff0000"/>
<text class="ss" font-size="93" text-anchor="middle" transform="translate(0.0,142.3) scale(0.740,1)" x="1613.5 1675.7 1737.8 1800.0 1862.2" y="0">TSR=1</text>
<path d="M1446.5,110.5H1628.0" stroke="#00ff00" stroke-width="10.4" stroke-linecap="round"/>
<polygon points="1537.2,90.5 1520.2,120.5 1554.2,120.5" fill="#00ff00"/>
<text class="ss" font-size="93" text-anchor="middle" transform="translate(0.0,142.3) scale(0.740,1)" x="2293.2 2355.4 2417.6 2479.7 2541.9 2589.2 2666.2" y="0">TSR=1.5</text>
<path d="M348.0,210.5H529.0" stroke="#0000ff" stroke-width="10.4" stroke-linecap="round"/>
<polygon points="438.5,230.5 421.5,200.5 455.5,200.5" fill="#0000ff"/>
<text class="ss" font-size="93" text-anchor="middle" transform="translate(0.0,242.8) scale(0.740,1)" x="808.9 871.1 933.2 995.4 1057.6 1104.9 1181.9 1244.1" y="0">TSR=2.96</text>
<path d="M943.0,210.5H1124.0" stroke="#ff00ff" stroke-width="10.4" stroke-linecap="round"/>
<polygon points="1033.5,191.5 1052.0,210.5 1033.5,229.5 1015.0,210.5" fill="#ff00ff"/>
<text class="ss" font-size="93" text-anchor="middle" transform="translate(0.0,242.8) scale(0.740,1)" x="1613.5 1675.7 1737.8 1800.0 1862.2" y="0">TSR=4</text>
<text class="ss" font-size="93" text-anchor="middle" transform="translate(0.0,1734.3) scale(0.740,1)" x="1233.8 1295.9 1358.1 1420.3 1482.4 1544.6 1606.8 1668.9 1731.1 1793.2 1855.4 1917.6 1979.7 2044.6 2097.3 2214.9" y="0">Azimuth angle(°)</text>
<text class="ss" font-size="93" text-anchor="middle" transform="translate(109.5,1315.0) rotate(-90) scale(0.740,1)" x="31.1 93.2 155.4 217.6 279.7 341.9 404.1 466.2 528.4 590.5 652.7 714.9 777.0 839.2 901.4 963.5 1025.7 1087.8 1150.0 1214.9 1274.3 1323.6 1373.0 1421.6" y="0">Wind turbine torque(N·m)</text>
</svg></body></html>
